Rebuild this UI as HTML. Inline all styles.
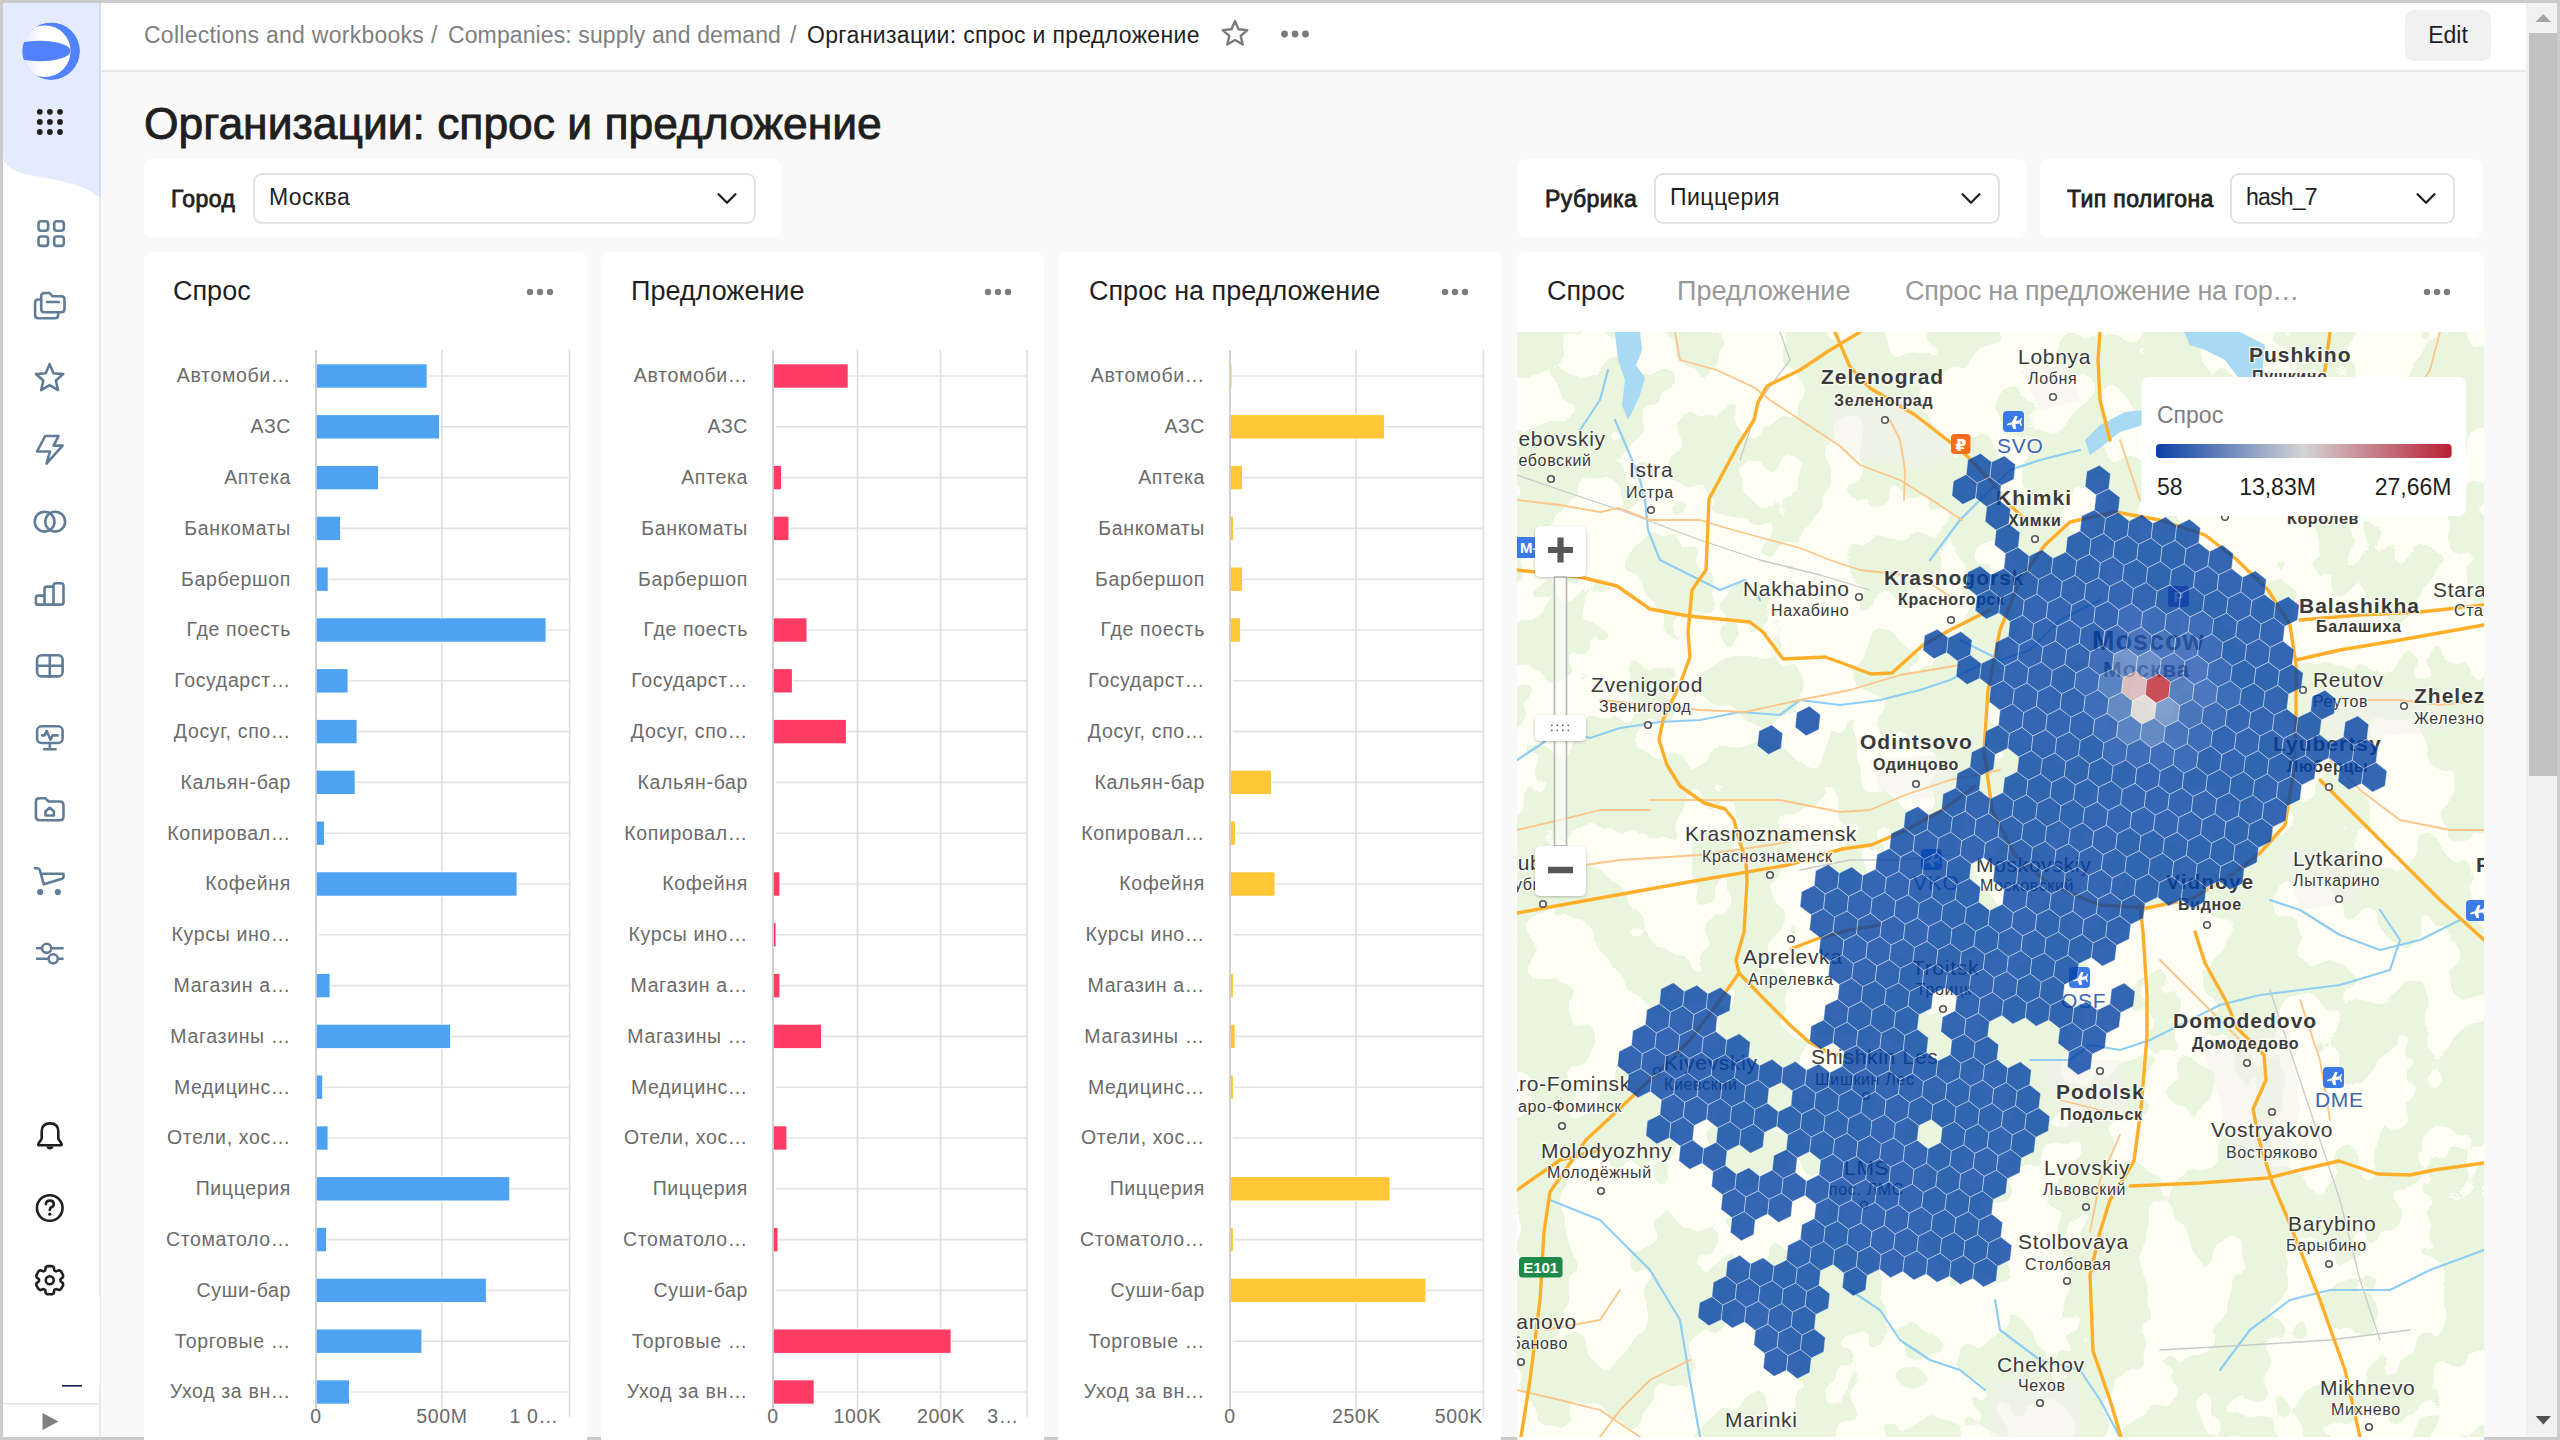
<!DOCTYPE html>
<html><head><meta charset="utf-8">
<style>
*{box-sizing:border-box;margin:0;padding:0}
html,body{width:2560px;height:1440px;overflow:hidden;background:#cbcbcb}
body{position:relative;font-family:"Liberation Sans","DejaVu Sans",sans-serif;color:#1f1f1f}
.abs{position:absolute}
#frame{position:absolute;left:3px;top:3px;width:2554px;height:1434px;background:#f9f9f9;overflow:hidden}
#aside{position:absolute;left:3px;top:3px;width:96px;height:1434px;background:#fff}
#asideb{position:absolute;left:99px;top:3px;width:2px;height:1434px;background:#ebebeb}
#header{position:absolute;left:101px;top:3px;width:2425px;height:69px;background:#fff;border-bottom:2px solid #e9e9e9}
.crumb{position:absolute;top:20.8px;font-size:23px;line-height:28px;color:#7f7f7f;white-space:nowrap}
#edit{position:absolute;left:2405px;top:10px;width:86px;height:51px;border-radius:9px;background:#f1f1f1;font-size:23px;line-height:51px;text-align:center;color:#1f1f1f}
#scroll{position:absolute;left:2526px;top:3px;width:31px;height:1434px;background:#f1f1f1}
#thumb{position:absolute;left:2529px;top:33px;width:28px;height:743px;background:#c1c1c1}
#title{position:absolute;left:144px;top:96px;font-size:44.4px;line-height:56px;color:#1f1f1f;white-space:nowrap;-webkit-text-stroke:0.9px #1f1f1f}
.card{position:absolute;background:#fff;border-radius:9px}
.flabel{position:absolute;font-size:23px;line-height:28px;color:#1f1f1f;white-space:nowrap;-webkit-text-stroke:0.8px #1f1f1f;letter-spacing:0.4px}
.sel{position:absolute;height:51px;border:2px solid #e2e2e2;border-radius:9px;background:#fff}
.sel span{position:absolute;left:14px;top:8px;letter-spacing:0.45px;font-size:23px;line-height:28px;color:#1f1f1f;white-space:nowrap}
.sel svg{position:absolute;top:15px}
.wt{position:absolute;top:274px;font-size:27px;line-height:34px;color:#1f1f1f;white-space:nowrap}
.chart{position:absolute;top:240px}
.cl{font-family:"Liberation Sans",sans-serif;font-size:19.5px;fill:#6b6b6b;letter-spacing:0.65px}
.tab{position:absolute;top:274px;font-size:27px;line-height:34px;color:#999;white-space:nowrap}
#map{position:absolute;left:1517px;top:332px;width:967px;height:1105px;overflow:hidden;background:#fcfcf4}
</style></head><body>
<div id="frame"></div>
<div id="aside">
<svg class="abs" style="left:0;top:0" width="96" height="200" viewBox="3 3 96 200">
<path d="M3,3 H99 V197 C92,192 85,188 76,185 C62,180.5 52,179 40,177 C26,174.5 14,172 8,166 C4.5,162.5 3.5,160 3,157 Z" fill="#e4ebfe"/>
</svg>
</div>
<div id="asideb"></div>
<svg class="abs" style="left:99px;top:3px" width="2" height="194"><rect width="2" height="194" fill="#d5ddef"/></svg>
<svg class="abs" style="left:0;top:0" width="100" height="1440" viewBox="0 0 100 1440"><defs><clipPath id="lc"><circle cx="51.2" cy="51.2" r="28.8"/></clipPath><linearGradient id="lg" x1="0" x2="1" y1="0" y2="0"><stop offset="0" stop-color="#dfe7ff"/><stop offset="0.45" stop-color="#ffffff"/><stop offset="1" stop-color="#ffffff"/></linearGradient></defs><g clip-path="url(#lc)"><circle cx="51.2" cy="51.2" r="28.8" fill="#5282ff"/><circle cx="44.8" cy="51.2" r="25.8" fill="url(#lg)"/><ellipse cx="40" cy="51" rx="30.6" ry="10.3" fill="#5282ff"/></g><circle cx="39.8" cy="111.8" r="2.9" fill="#1f1f1f"/><circle cx="49.9" cy="111.8" r="2.9" fill="#1f1f1f"/><circle cx="60.0" cy="111.8" r="2.9" fill="#1f1f1f"/><circle cx="39.8" cy="121.9" r="2.9" fill="#1f1f1f"/><circle cx="49.9" cy="121.9" r="2.9" fill="#1f1f1f"/><circle cx="60.0" cy="121.9" r="2.9" fill="#1f1f1f"/><circle cx="39.8" cy="132.0" r="2.9" fill="#1f1f1f"/><circle cx="49.9" cy="132.0" r="2.9" fill="#1f1f1f"/><circle cx="60.0" cy="132.0" r="2.9" fill="#1f1f1f"/><rect x="38.5" y="221.3" width="9.6" height="9.4" rx="2.6" fill="none" stroke="#617c97" stroke-width="2.6" stroke-linecap="round" stroke-linejoin="round"/><rect x="54.2" y="221.3" width="9.6" height="9.4" rx="2.6" fill="none" stroke="#617c97" stroke-width="2.6" stroke-linecap="round" stroke-linejoin="round"/><rect x="38.5" y="236.5" width="9.6" height="9.4" rx="2.6" fill="none" stroke="#617c97" stroke-width="2.6" stroke-linecap="round" stroke-linejoin="round"/><rect x="54.2" y="236.5" width="9.6" height="9.4" rx="2.6" fill="none" stroke="#617c97" stroke-width="2.6" stroke-linecap="round" stroke-linejoin="round"/><path d="M44.5,293 H49.6 L52.3,296.3 H61.2 Q64.5,296.3 64.5,299.6 V308.9 Q64.5,312.2 61.2,312.2 H44.5 Q41.2,312.2 41.2,308.9 V296.3 Q41.2,293 44.5,293 Z" fill="none" stroke="#617c97" stroke-width="2.6" stroke-linecap="round" stroke-linejoin="round"/><path d="M41.2,299.5 H38.4 Q35.1,299.5 35.1,302.8 V315 Q35.1,318.3 38.4,318.3 H55 Q58.2,318.3 58.2,315 V312.5" fill="none" stroke="#617c97" stroke-width="2.6" stroke-linecap="round" stroke-linejoin="round"/><path d="M47,302 H58.8" fill="none" stroke="#617c97" stroke-width="2.6" stroke-linecap="round" stroke-linejoin="round"/><path d="M49.6,364.2 L53.5,373.2 L63.2,374.1 L55.9,380.5 L58.0,390.1 L49.6,385.1 L41.2,390.1 L43.3,380.5 L36.0,374.1 L45.7,373.2 Z" fill="none" stroke="#617c97" stroke-width="2.6" stroke-linecap="round" stroke-linejoin="round"/><path d="M45.2,436 H58.5 L53.6,445.6 H62.6 L46.5,463.6 L50,451.5 H37 Z" fill="none" stroke="#617c97" stroke-width="2.6" stroke-linecap="round" stroke-linejoin="round"/><circle cx="44.6" cy="521.7" r="9.9" fill="none" stroke="#617c97" stroke-width="2.6" stroke-linecap="round" stroke-linejoin="round"/><circle cx="55.2" cy="521.7" r="9.9" fill="none" stroke="#617c97" stroke-width="2.6" stroke-linecap="round" stroke-linejoin="round"/><path d="M37.5,604.6 Q35.9,604.6 35.9,603 V598 Q35.9,595.6 38.3,595.6 H44.5 V589 Q44.5,586.6 46.9,586.6 H53.5 V585.8 Q53.5,583.3 55.9,583.3 H61.1 Q63.5,583.3 63.5,585.8 V602.2 Q63.5,604.6 61.1,604.6 Z M44.5,595.6 V604.6 M53.5,586.6 V604.6" fill="none" stroke="#617c97" stroke-width="2.6" stroke-linecap="round" stroke-linejoin="round"/><rect x="37.1" y="655.2" width="25.5" height="21.2" rx="4.5" fill="none" stroke="#617c97" stroke-width="2.6" stroke-linecap="round" stroke-linejoin="round"/><path d="M49.8,655.2 V676.4 M37.1,665.8 H62.6" fill="none" stroke="#617c97" stroke-width="2.6" stroke-linecap="round" stroke-linejoin="round"/><rect x="37.1" y="726.3" width="25.5" height="16.7" rx="4.5" fill="none" stroke="#617c97" stroke-width="2.6" stroke-linecap="round" stroke-linejoin="round"/><path d="M42,735.4 H44.6 L46.6,731 L50.6,739.6 L52.7,735.4 H57.6 M44,749.2 H55.6 M49.8,743 V749.2" fill="none" stroke="#617c97" stroke-width="2.6" stroke-linecap="round" stroke-linejoin="round"/><path d="M39.3,798.3 H45.5 L48.5,801.5 H59.6 Q63.5,801.5 63.5,805.4 V816.3 Q63.5,820.2 59.6,820.2 H39.8 Q35.9,820.2 35.9,816.3 V801.7 Q35.9,798.3 39.3,798.3 Z" fill="none" stroke="#617c97" stroke-width="2.6" stroke-linecap="round" stroke-linejoin="round"/><path d="M45.5,815.5 V811.3 L49.7,807.8 L53.9,811.3 V815.5 Z" fill="none" stroke="#617c97" stroke-width="2.6" stroke-linecap="round" stroke-linejoin="round"/><path d="M34.9,868.3 H37.6 Q39.3,868.3 39.8,870 L43.8,884.3 L62,878.7 Q63.5,878.2 63.5,876.7 V873.8 H41" fill="none" stroke="#617c97" stroke-width="2.6" stroke-linecap="round" stroke-linejoin="round"/><circle cx="40.2" cy="892" r="3.1" fill="#617c97"/><circle cx="57.8" cy="892" r="3.1" fill="#617c97"/><path d="M37.1,948.3 H41.4 M52,948.3 H62.6 M37.1,958.8 H47.8 M58.5,958.8 H62.6" fill="none" stroke="#617c97" stroke-width="2.6" stroke-linecap="round" stroke-linejoin="round"/><circle cx="46.7" cy="948.3" r="4.6" fill="none" stroke="#617c97" stroke-width="2.6" stroke-linecap="round" stroke-linejoin="round"/><circle cx="53.2" cy="958.8" r="4.6" fill="none" stroke="#617c97" stroke-width="2.6" stroke-linecap="round" stroke-linejoin="round"/><path d="M39.6,1145.3 H60.3 Q62.4,1145.3 61.3,1143.3 L59,1140 Q58.3,1139 58.3,1137.6 V1131.6 Q58.3,1123.4 50,1123.4 Q41.7,1123.4 41.7,1131.6 V1137.6 Q41.7,1139 41,1140 L38.6,1143.3 Q37.5,1145.3 39.6,1145.3 Z" fill="none" stroke="#1f1f1f" stroke-width="2.6" stroke-linecap="round" stroke-linejoin="round"/><path d="M46.5,1146.6 Q46.8,1149.5 50,1149.5 Q53.2,1149.5 53.5,1146.6 Z" fill="#1f1f1f"/><circle cx="49.75" cy="1208" r="12.8" fill="none" stroke="#1f1f1f" stroke-width="2.6" stroke-linecap="round" stroke-linejoin="round"/><path d="M45.9,1204.3 Q46,1200.6 49.9,1200.6 Q53.8,1200.6 53.8,1204 Q53.8,1206.2 51.4,1207.3 Q49.8,1208 49.8,1210" fill="none" stroke="#1f1f1f" stroke-width="2.6" stroke-linecap="round" stroke-linejoin="round"/><circle cx="49.8" cy="1214.2" r="1.6" fill="#1f1f1f"/><path d="M45.77,1267.19 L47.51,1266.08 L51.99,1266.08 L53.73,1267.19 L54.31,1270.41 L55.94,1271.35 L59.03,1270.25 L60.86,1271.20 L63.10,1275.08 L63.00,1277.14 L60.51,1279.26 L60.51,1281.14 L63.00,1283.26 L63.10,1285.32 L60.86,1289.20 L59.03,1290.15 L55.94,1289.05 L54.31,1289.99 L53.73,1293.21 L51.99,1294.32 L47.51,1294.32 L45.77,1293.21 L45.19,1289.99 L43.56,1289.05 L40.47,1290.15 L38.64,1289.20 L36.40,1285.32 L36.50,1283.26 L38.99,1281.14 L38.99,1279.26 L36.50,1277.14 L36.40,1275.08 L38.64,1271.20 L40.47,1270.25 L43.56,1271.35 L45.19,1270.41 Z" fill="none" stroke="#1f1f1f" stroke-width="2.6" stroke-linecap="round" stroke-linejoin="round"/><circle cx="49.75" cy="1280.2" r="4" fill="none" stroke="#1f1f1f" stroke-width="2.6" stroke-linecap="round" stroke-linejoin="round"/><rect x="3" y="1296" width="100" height="89" fill="#ffffff"/><rect x="62" y="1385" width="20" height="1.6" fill="#1b1b55"/><rect x="3" y="1403" width="97" height="1.5" fill="#e3e3e3"/><path d="M42.5,1413 L58.5,1421.5 L42.5,1430 Z" fill="#808080"/></svg>
<div id="header">
</div>
<div class="crumb" style="left:144px;letter-spacing:0.26px">Collections and workbooks</div>
<div class="crumb" style="left:431px">/</div>
<div class="crumb" style="left:448px;letter-spacing:0.11px">Companies: supply and demand</div>
<div class="crumb" style="left:790px">/</div>
<div class="crumb" style="left:807px;color:#1f1f1f;letter-spacing:0.33px">Организации: спрос и предложение</div>
<svg class="abs" style="left:1219px;top:18px" width="32" height="32" viewBox="0 0 32 32"><path d="M16,3.2 L19.6,11.3 L28.3,12.1 L21.7,17.9 L23.7,26.5 L16,22 L8.3,26.5 L10.3,17.9 L3.7,12.1 L12.4,11.3 Z" fill="none" stroke="#7a7a7a" stroke-width="2.4" stroke-linejoin="round"/></svg>
<svg class="abs" style="left:1278px;top:24px" width="34" height="20"><circle cx="6.5" cy="10" r="3.4" fill="#7a7a7a"/><circle cx="17.0" cy="10" r="3.4" fill="#7a7a7a"/><circle cx="27.5" cy="10" r="3.4" fill="#7a7a7a"/></svg>
<div id="edit">Edit</div>
<div id="scroll"></div>
<div id="thumb"></div>
<svg class="abs" style="left:2526px;top:3px" width="31" height="30"><path d="M17.3,11 L25,19 L9.6,19 Z" fill="#a3a3a3"/></svg>
<svg class="abs" style="left:2526px;top:1405px" width="31" height="30"><path d="M9.6,11 L25,11 L17.3,19.5 Z" fill="#505050"/></svg>

<div id="title">Организации: спрос и предложение</div>

<div class="card" style="left:144px;top:159px;width:638px;height:79px"></div>
<div class="flabel" style="left:171px;top:185px">Город</div>
<div class="sel" style="left:253px;top:173px;width:503px"><span>Москва</span><svg style="position:absolute;right:17.5px;top:18px" width="20" height="12" viewBox="0 0 20 12"><path d="M1.6,1.3 L10,9.7 L18.4,1.3" fill="none" stroke="#1f1f1f" stroke-width="2.3" stroke-linecap="round" stroke-linejoin="round"/></svg></div>

<div class="card" style="left:1518px;top:159px;width:508px;height:79px"></div>
<div class="flabel" style="left:1545px;top:185px">Рубрика</div>
<div class="sel" style="left:1654px;top:173px;width:346px"><span>Пиццерия</span><svg style="position:absolute;right:17.5px;top:18px" width="20" height="12" viewBox="0 0 20 12"><path d="M1.6,1.3 L10,9.7 L18.4,1.3" fill="none" stroke="#1f1f1f" stroke-width="2.3" stroke-linecap="round" stroke-linejoin="round"/></svg></div>

<div class="card" style="left:2040px;top:159px;width:442px;height:79px"></div>
<div class="flabel" style="left:2067px;top:185px">Тип полигона</div>
<div class="sel" style="left:2230px;top:173px;width:225px"><span style="letter-spacing:-0.8px">hash_7</span><svg style="position:absolute;right:17.5px;top:18px" width="20" height="12" viewBox="0 0 20 12"><path d="M1.6,1.3 L10,9.7 L18.4,1.3" fill="none" stroke="#1f1f1f" stroke-width="2.3" stroke-linecap="round" stroke-linejoin="round"/></svg></div>

<div class="card" style="left:144px;top:252px;width:443px;height:1300px"></div>
<div class="card" style="left:601px;top:252px;width:443px;height:1300px"></div>
<div class="card" style="left:1058px;top:252px;width:443px;height:1300px"></div>
<div class="card" style="left:1517px;top:252px;width:967px;height:1300px"></div>

<div class="wt" style="left:173px">Спрос</div>
<div class="wt" style="left:631px">Предложение</div>
<div class="wt" style="left:1089px">Спрос на предложение</div>
<svg class="abs" style="left:520px;top:282px" width="40" height="20"><circle cx="10" cy="10" r="3.2" fill="#7d7d7d"/><circle cx="20" cy="10" r="3.2" fill="#7d7d7d"/><circle cx="30" cy="10" r="3.2" fill="#7d7d7d"/></svg>
<svg class="abs" style="left:978px;top:282px" width="40" height="20"><circle cx="10" cy="10" r="3.2" fill="#7d7d7d"/><circle cx="20" cy="10" r="3.2" fill="#7d7d7d"/><circle cx="30" cy="10" r="3.2" fill="#7d7d7d"/></svg>
<svg class="abs" style="left:1435px;top:282px" width="40" height="20"><circle cx="10" cy="10" r="3.2" fill="#7d7d7d"/><circle cx="20" cy="10" r="3.2" fill="#7d7d7d"/><circle cx="30" cy="10" r="3.2" fill="#7d7d7d"/></svg>
<svg class="chart" style="left:144px" width="443" height="1200" viewBox="144 240 443 1200">
<line x1="319" y1="376.0" x2="569.6" y2="376.0" stroke="#e3e3e3" stroke-width="1.6"/>
<line x1="319" y1="426.8" x2="569.6" y2="426.8" stroke="#e3e3e3" stroke-width="1.6"/>
<line x1="319" y1="477.6" x2="569.6" y2="477.6" stroke="#e3e3e3" stroke-width="1.6"/>
<line x1="319" y1="528.4" x2="569.6" y2="528.4" stroke="#e3e3e3" stroke-width="1.6"/>
<line x1="319" y1="579.2" x2="569.6" y2="579.2" stroke="#e3e3e3" stroke-width="1.6"/>
<line x1="319" y1="630.0" x2="569.6" y2="630.0" stroke="#e3e3e3" stroke-width="1.6"/>
<line x1="319" y1="680.8" x2="569.6" y2="680.8" stroke="#e3e3e3" stroke-width="1.6"/>
<line x1="319" y1="731.6" x2="569.6" y2="731.6" stroke="#e3e3e3" stroke-width="1.6"/>
<line x1="319" y1="782.4" x2="569.6" y2="782.4" stroke="#e3e3e3" stroke-width="1.6"/>
<line x1="319" y1="833.2" x2="569.6" y2="833.2" stroke="#e3e3e3" stroke-width="1.6"/>
<line x1="319" y1="884.0" x2="569.6" y2="884.0" stroke="#e3e3e3" stroke-width="1.6"/>
<line x1="319" y1="934.8" x2="569.6" y2="934.8" stroke="#e3e3e3" stroke-width="1.6"/>
<line x1="319" y1="985.6" x2="569.6" y2="985.6" stroke="#e3e3e3" stroke-width="1.6"/>
<line x1="319" y1="1036.4" x2="569.6" y2="1036.4" stroke="#e3e3e3" stroke-width="1.6"/>
<line x1="319" y1="1087.2" x2="569.6" y2="1087.2" stroke="#e3e3e3" stroke-width="1.6"/>
<line x1="319" y1="1138.0" x2="569.6" y2="1138.0" stroke="#e3e3e3" stroke-width="1.6"/>
<line x1="319" y1="1188.8" x2="569.6" y2="1188.8" stroke="#e3e3e3" stroke-width="1.6"/>
<line x1="319" y1="1239.6" x2="569.6" y2="1239.6" stroke="#e3e3e3" stroke-width="1.6"/>
<line x1="319" y1="1290.4" x2="569.6" y2="1290.4" stroke="#e3e3e3" stroke-width="1.6"/>
<line x1="319" y1="1341.2" x2="569.6" y2="1341.2" stroke="#e3e3e3" stroke-width="1.6"/>
<line x1="319" y1="1392.0" x2="569.6" y2="1392.0" stroke="#e3e3e3" stroke-width="1.6"/>
<line x1="442" y1="350" x2="442" y2="1417" stroke="#dedede" stroke-width="1.6"/>
<line x1="569.6" y1="350" x2="569.6" y2="1417" stroke="#dedede" stroke-width="1.6"/>
<rect x="316" y="364.3" width="110.7" height="23.4" fill="#4da2f1" stroke="#fff" stroke-width="2" paint-order="stroke"/>
<rect x="316" y="415.1" width="123.1" height="23.4" fill="#4da2f1" stroke="#fff" stroke-width="2" paint-order="stroke"/>
<rect x="316" y="465.9" width="62.0" height="23.4" fill="#4da2f1" stroke="#fff" stroke-width="2" paint-order="stroke"/>
<rect x="316" y="516.7" width="24.1" height="23.4" fill="#4da2f1" stroke="#fff" stroke-width="2" paint-order="stroke"/>
<rect x="316" y="567.5" width="11.7" height="23.4" fill="#4da2f1" stroke="#fff" stroke-width="2" paint-order="stroke"/>
<rect x="316" y="618.3" width="229.6" height="23.4" fill="#4da2f1" stroke="#fff" stroke-width="2" paint-order="stroke"/>
<rect x="316" y="669.1" width="31.6" height="23.4" fill="#4da2f1" stroke="#fff" stroke-width="2" paint-order="stroke"/>
<rect x="316" y="719.9" width="40.6" height="23.4" fill="#4da2f1" stroke="#fff" stroke-width="2" paint-order="stroke"/>
<rect x="316" y="770.7" width="38.7" height="23.4" fill="#4da2f1" stroke="#fff" stroke-width="2" paint-order="stroke"/>
<rect x="316" y="821.5" width="8.0" height="23.4" fill="#4da2f1" stroke="#fff" stroke-width="2" paint-order="stroke"/>
<rect x="316" y="872.3" width="200.6" height="23.4" fill="#4da2f1" stroke="#fff" stroke-width="2" paint-order="stroke"/>
<rect x="316" y="973.9" width="13.6" height="23.4" fill="#4da2f1" stroke="#fff" stroke-width="2" paint-order="stroke"/>
<rect x="316" y="1024.7" width="134.1" height="23.4" fill="#4da2f1" stroke="#fff" stroke-width="2" paint-order="stroke"/>
<rect x="316" y="1075.5" width="6.2" height="23.4" fill="#4da2f1" stroke="#fff" stroke-width="2" paint-order="stroke"/>
<rect x="316" y="1126.3" width="11.6" height="23.4" fill="#4da2f1" stroke="#fff" stroke-width="2" paint-order="stroke"/>
<rect x="316" y="1177.1" width="193.3" height="23.4" fill="#4da2f1" stroke="#fff" stroke-width="2" paint-order="stroke"/>
<rect x="316" y="1227.9" width="10.0" height="23.4" fill="#4da2f1" stroke="#fff" stroke-width="2" paint-order="stroke"/>
<rect x="316" y="1278.7" width="169.9" height="23.4" fill="#4da2f1" stroke="#fff" stroke-width="2" paint-order="stroke"/>
<rect x="316" y="1329.5" width="105.4" height="23.4" fill="#4da2f1" stroke="#fff" stroke-width="2" paint-order="stroke"/>
<rect x="316" y="1380.3" width="33.0" height="23.4" fill="#4da2f1" stroke="#fff" stroke-width="2" paint-order="stroke"/>
<line x1="316" y1="350" x2="316" y2="1410" stroke="#cccccc" stroke-width="1.8"/>
<text x="291" y="382.3" text-anchor="end" class="cl">Автомоби…</text>
<text x="291" y="433.1" text-anchor="end" class="cl">АЗС</text>
<text x="291" y="483.9" text-anchor="end" class="cl">Аптека</text>
<text x="291" y="534.7" text-anchor="end" class="cl">Банкоматы</text>
<text x="291" y="585.5" text-anchor="end" class="cl">Барбершоп</text>
<text x="291" y="636.3" text-anchor="end" class="cl">Где поесть</text>
<text x="291" y="687.1" text-anchor="end" class="cl">Государст…</text>
<text x="291" y="737.9" text-anchor="end" class="cl">Досуг, спо…</text>
<text x="291" y="788.7" text-anchor="end" class="cl">Кальян-бар</text>
<text x="291" y="839.5" text-anchor="end" class="cl">Копировал…</text>
<text x="291" y="890.3" text-anchor="end" class="cl">Кофейня</text>
<text x="291" y="941.1" text-anchor="end" class="cl">Курсы ино…</text>
<text x="291" y="991.9" text-anchor="end" class="cl">Магазин а…</text>
<text x="291" y="1042.7" text-anchor="end" class="cl">Магазины …</text>
<text x="291" y="1093.5" text-anchor="end" class="cl">Медицинс…</text>
<text x="291" y="1144.3" text-anchor="end" class="cl">Отели, хос…</text>
<text x="291" y="1195.1" text-anchor="end" class="cl">Пиццерия</text>
<text x="291" y="1245.9" text-anchor="end" class="cl">Стоматоло…</text>
<text x="291" y="1296.7" text-anchor="end" class="cl">Суши-бар</text>
<text x="291" y="1347.5" text-anchor="end" class="cl">Торговые …</text>
<text x="291" y="1398.3" text-anchor="end" class="cl">Уход за вн…</text>
<text x="316" y="1422.5" text-anchor="middle" class="cl">0</text>
<text x="442" y="1422.5" text-anchor="middle" class="cl">500M</text>
<text x="534" y="1422.5" text-anchor="middle" class="cl">1 0…</text>
</svg><svg class="chart" style="left:601px" width="443" height="1200" viewBox="601 240 443 1200">
<line x1="776" y1="376.0" x2="1027" y2="376.0" stroke="#e3e3e3" stroke-width="1.6"/>
<line x1="776" y1="426.8" x2="1027" y2="426.8" stroke="#e3e3e3" stroke-width="1.6"/>
<line x1="776" y1="477.6" x2="1027" y2="477.6" stroke="#e3e3e3" stroke-width="1.6"/>
<line x1="776" y1="528.4" x2="1027" y2="528.4" stroke="#e3e3e3" stroke-width="1.6"/>
<line x1="776" y1="579.2" x2="1027" y2="579.2" stroke="#e3e3e3" stroke-width="1.6"/>
<line x1="776" y1="630.0" x2="1027" y2="630.0" stroke="#e3e3e3" stroke-width="1.6"/>
<line x1="776" y1="680.8" x2="1027" y2="680.8" stroke="#e3e3e3" stroke-width="1.6"/>
<line x1="776" y1="731.6" x2="1027" y2="731.6" stroke="#e3e3e3" stroke-width="1.6"/>
<line x1="776" y1="782.4" x2="1027" y2="782.4" stroke="#e3e3e3" stroke-width="1.6"/>
<line x1="776" y1="833.2" x2="1027" y2="833.2" stroke="#e3e3e3" stroke-width="1.6"/>
<line x1="776" y1="884.0" x2="1027" y2="884.0" stroke="#e3e3e3" stroke-width="1.6"/>
<line x1="776" y1="934.8" x2="1027" y2="934.8" stroke="#e3e3e3" stroke-width="1.6"/>
<line x1="776" y1="985.6" x2="1027" y2="985.6" stroke="#e3e3e3" stroke-width="1.6"/>
<line x1="776" y1="1036.4" x2="1027" y2="1036.4" stroke="#e3e3e3" stroke-width="1.6"/>
<line x1="776" y1="1087.2" x2="1027" y2="1087.2" stroke="#e3e3e3" stroke-width="1.6"/>
<line x1="776" y1="1138.0" x2="1027" y2="1138.0" stroke="#e3e3e3" stroke-width="1.6"/>
<line x1="776" y1="1188.8" x2="1027" y2="1188.8" stroke="#e3e3e3" stroke-width="1.6"/>
<line x1="776" y1="1239.6" x2="1027" y2="1239.6" stroke="#e3e3e3" stroke-width="1.6"/>
<line x1="776" y1="1290.4" x2="1027" y2="1290.4" stroke="#e3e3e3" stroke-width="1.6"/>
<line x1="776" y1="1341.2" x2="1027" y2="1341.2" stroke="#e3e3e3" stroke-width="1.6"/>
<line x1="776" y1="1392.0" x2="1027" y2="1392.0" stroke="#e3e3e3" stroke-width="1.6"/>
<line x1="857.5" y1="350" x2="857.5" y2="1417" stroke="#dedede" stroke-width="1.6"/>
<line x1="940.4" y1="350" x2="940.4" y2="1417" stroke="#dedede" stroke-width="1.6"/>
<line x1="1027" y1="350" x2="1027" y2="1417" stroke="#dedede" stroke-width="1.6"/>
<rect x="773" y="364.3" width="74.7" height="23.4" fill="#ff3d64" stroke="#fff" stroke-width="2" paint-order="stroke"/>
<rect x="773" y="465.9" width="8.0" height="23.4" fill="#ff3d64" stroke="#fff" stroke-width="2" paint-order="stroke"/>
<rect x="773" y="516.7" width="15.5" height="23.4" fill="#ff3d64" stroke="#fff" stroke-width="2" paint-order="stroke"/>
<rect x="773" y="618.3" width="33.5" height="23.4" fill="#ff3d64" stroke="#fff" stroke-width="2" paint-order="stroke"/>
<rect x="773" y="669.1" width="18.9" height="23.4" fill="#ff3d64" stroke="#fff" stroke-width="2" paint-order="stroke"/>
<rect x="773" y="719.9" width="72.9" height="23.4" fill="#ff3d64" stroke="#fff" stroke-width="2" paint-order="stroke"/>
<rect x="773" y="872.3" width="6.4" height="23.4" fill="#ff3d64" stroke="#fff" stroke-width="2" paint-order="stroke"/>
<rect x="773" y="923.1" width="2.6" height="23.4" fill="#ff3d64" stroke="#fff" stroke-width="2" paint-order="stroke"/>
<rect x="773" y="973.9" width="6.4" height="23.4" fill="#ff3d64" stroke="#fff" stroke-width="2" paint-order="stroke"/>
<rect x="773" y="1024.7" width="48.0" height="23.4" fill="#ff3d64" stroke="#fff" stroke-width="2" paint-order="stroke"/>
<rect x="773" y="1126.3" width="13.4" height="23.4" fill="#ff3d64" stroke="#fff" stroke-width="2" paint-order="stroke"/>
<rect x="773" y="1227.9" width="4.5" height="23.4" fill="#ff3d64" stroke="#fff" stroke-width="2" paint-order="stroke"/>
<rect x="773" y="1329.5" width="177.6" height="23.4" fill="#ff3d64" stroke="#fff" stroke-width="2" paint-order="stroke"/>
<rect x="773" y="1380.3" width="40.7" height="23.4" fill="#ff3d64" stroke="#fff" stroke-width="2" paint-order="stroke"/>
<line x1="773" y1="350" x2="773" y2="1410" stroke="#cccccc" stroke-width="1.8"/>
<text x="748" y="382.3" text-anchor="end" class="cl">Автомоби…</text>
<text x="748" y="433.1" text-anchor="end" class="cl">АЗС</text>
<text x="748" y="483.9" text-anchor="end" class="cl">Аптека</text>
<text x="748" y="534.7" text-anchor="end" class="cl">Банкоматы</text>
<text x="748" y="585.5" text-anchor="end" class="cl">Барбершоп</text>
<text x="748" y="636.3" text-anchor="end" class="cl">Где поесть</text>
<text x="748" y="687.1" text-anchor="end" class="cl">Государст…</text>
<text x="748" y="737.9" text-anchor="end" class="cl">Досуг, спо…</text>
<text x="748" y="788.7" text-anchor="end" class="cl">Кальян-бар</text>
<text x="748" y="839.5" text-anchor="end" class="cl">Копировал…</text>
<text x="748" y="890.3" text-anchor="end" class="cl">Кофейня</text>
<text x="748" y="941.1" text-anchor="end" class="cl">Курсы ино…</text>
<text x="748" y="991.9" text-anchor="end" class="cl">Магазин а…</text>
<text x="748" y="1042.7" text-anchor="end" class="cl">Магазины …</text>
<text x="748" y="1093.5" text-anchor="end" class="cl">Медицинс…</text>
<text x="748" y="1144.3" text-anchor="end" class="cl">Отели, хос…</text>
<text x="748" y="1195.1" text-anchor="end" class="cl">Пиццерия</text>
<text x="748" y="1245.9" text-anchor="end" class="cl">Стоматоло…</text>
<text x="748" y="1296.7" text-anchor="end" class="cl">Суши-бар</text>
<text x="748" y="1347.5" text-anchor="end" class="cl">Торговые …</text>
<text x="748" y="1398.3" text-anchor="end" class="cl">Уход за вн…</text>
<text x="773" y="1422.5" text-anchor="middle" class="cl">0</text>
<text x="857.5" y="1422.5" text-anchor="middle" class="cl">100K</text>
<text x="941" y="1422.5" text-anchor="middle" class="cl">200K</text>
<text x="1003" y="1422.5" text-anchor="middle" class="cl">3…</text>
</svg><svg class="chart" style="left:1058px" width="443" height="1200" viewBox="1058 240 443 1200">
<line x1="1233" y1="376.0" x2="1483.5" y2="376.0" stroke="#e3e3e3" stroke-width="1.6"/>
<line x1="1233" y1="426.8" x2="1483.5" y2="426.8" stroke="#e3e3e3" stroke-width="1.6"/>
<line x1="1233" y1="477.6" x2="1483.5" y2="477.6" stroke="#e3e3e3" stroke-width="1.6"/>
<line x1="1233" y1="528.4" x2="1483.5" y2="528.4" stroke="#e3e3e3" stroke-width="1.6"/>
<line x1="1233" y1="579.2" x2="1483.5" y2="579.2" stroke="#e3e3e3" stroke-width="1.6"/>
<line x1="1233" y1="630.0" x2="1483.5" y2="630.0" stroke="#e3e3e3" stroke-width="1.6"/>
<line x1="1233" y1="680.8" x2="1483.5" y2="680.8" stroke="#e3e3e3" stroke-width="1.6"/>
<line x1="1233" y1="731.6" x2="1483.5" y2="731.6" stroke="#e3e3e3" stroke-width="1.6"/>
<line x1="1233" y1="782.4" x2="1483.5" y2="782.4" stroke="#e3e3e3" stroke-width="1.6"/>
<line x1="1233" y1="833.2" x2="1483.5" y2="833.2" stroke="#e3e3e3" stroke-width="1.6"/>
<line x1="1233" y1="884.0" x2="1483.5" y2="884.0" stroke="#e3e3e3" stroke-width="1.6"/>
<line x1="1233" y1="934.8" x2="1483.5" y2="934.8" stroke="#e3e3e3" stroke-width="1.6"/>
<line x1="1233" y1="985.6" x2="1483.5" y2="985.6" stroke="#e3e3e3" stroke-width="1.6"/>
<line x1="1233" y1="1036.4" x2="1483.5" y2="1036.4" stroke="#e3e3e3" stroke-width="1.6"/>
<line x1="1233" y1="1087.2" x2="1483.5" y2="1087.2" stroke="#e3e3e3" stroke-width="1.6"/>
<line x1="1233" y1="1138.0" x2="1483.5" y2="1138.0" stroke="#e3e3e3" stroke-width="1.6"/>
<line x1="1233" y1="1188.8" x2="1483.5" y2="1188.8" stroke="#e3e3e3" stroke-width="1.6"/>
<line x1="1233" y1="1239.6" x2="1483.5" y2="1239.6" stroke="#e3e3e3" stroke-width="1.6"/>
<line x1="1233" y1="1290.4" x2="1483.5" y2="1290.4" stroke="#e3e3e3" stroke-width="1.6"/>
<line x1="1233" y1="1341.2" x2="1483.5" y2="1341.2" stroke="#e3e3e3" stroke-width="1.6"/>
<line x1="1233" y1="1392.0" x2="1483.5" y2="1392.0" stroke="#e3e3e3" stroke-width="1.6"/>
<line x1="1356" y1="350" x2="1356" y2="1417" stroke="#dedede" stroke-width="1.6"/>
<line x1="1483.5" y1="350" x2="1483.5" y2="1417" stroke="#dedede" stroke-width="1.6"/>
<rect x="1230" y="364.3" width="1.5" height="23.4" fill="#ffc636" stroke="#fff" stroke-width="2" paint-order="stroke"/>
<rect x="1230" y="415.1" width="154.1" height="23.4" fill="#ffc636" stroke="#fff" stroke-width="2" paint-order="stroke"/>
<rect x="1230" y="465.9" width="12.0" height="23.4" fill="#ffc636" stroke="#fff" stroke-width="2" paint-order="stroke"/>
<rect x="1230" y="516.7" width="3.0" height="23.4" fill="#ffc636" stroke="#fff" stroke-width="2" paint-order="stroke"/>
<rect x="1230" y="567.5" width="12.0" height="23.4" fill="#ffc636" stroke="#fff" stroke-width="2" paint-order="stroke"/>
<rect x="1230" y="618.3" width="10.1" height="23.4" fill="#ffc636" stroke="#fff" stroke-width="2" paint-order="stroke"/>
<rect x="1230" y="669.1" width="0.8" height="23.4" fill="#ffc636" stroke="#fff" stroke-width="2" paint-order="stroke"/>
<rect x="1230" y="719.9" width="0.8" height="23.4" fill="#ffc636" stroke="#fff" stroke-width="2" paint-order="stroke"/>
<rect x="1230" y="770.7" width="40.9" height="23.4" fill="#ffc636" stroke="#fff" stroke-width="2" paint-order="stroke"/>
<rect x="1230" y="821.5" width="4.9" height="23.4" fill="#ffc636" stroke="#fff" stroke-width="2" paint-order="stroke"/>
<rect x="1230" y="872.3" width="44.5" height="23.4" fill="#ffc636" stroke="#fff" stroke-width="2" paint-order="stroke"/>
<rect x="1230" y="973.9" width="2.9" height="23.4" fill="#ffc636" stroke="#fff" stroke-width="2" paint-order="stroke"/>
<rect x="1230" y="1024.7" width="4.8" height="23.4" fill="#ffc636" stroke="#fff" stroke-width="2" paint-order="stroke"/>
<rect x="1230" y="1075.5" width="2.9" height="23.4" fill="#ffc636" stroke="#fff" stroke-width="2" paint-order="stroke"/>
<rect x="1230" y="1177.1" width="159.6" height="23.4" fill="#ffc636" stroke="#fff" stroke-width="2" paint-order="stroke"/>
<rect x="1230" y="1227.9" width="2.9" height="23.4" fill="#ffc636" stroke="#fff" stroke-width="2" paint-order="stroke"/>
<rect x="1230" y="1278.7" width="195.4" height="23.4" fill="#ffc636" stroke="#fff" stroke-width="2" paint-order="stroke"/>
<line x1="1230" y1="350" x2="1230" y2="1410" stroke="#cccccc" stroke-width="1.8"/>
<text x="1205" y="382.3" text-anchor="end" class="cl">Автомоби…</text>
<text x="1205" y="433.1" text-anchor="end" class="cl">АЗС</text>
<text x="1205" y="483.9" text-anchor="end" class="cl">Аптека</text>
<text x="1205" y="534.7" text-anchor="end" class="cl">Банкоматы</text>
<text x="1205" y="585.5" text-anchor="end" class="cl">Барбершоп</text>
<text x="1205" y="636.3" text-anchor="end" class="cl">Где поесть</text>
<text x="1205" y="687.1" text-anchor="end" class="cl">Государст…</text>
<text x="1205" y="737.9" text-anchor="end" class="cl">Досуг, спо…</text>
<text x="1205" y="788.7" text-anchor="end" class="cl">Кальян-бар</text>
<text x="1205" y="839.5" text-anchor="end" class="cl">Копировал…</text>
<text x="1205" y="890.3" text-anchor="end" class="cl">Кофейня</text>
<text x="1205" y="941.1" text-anchor="end" class="cl">Курсы ино…</text>
<text x="1205" y="991.9" text-anchor="end" class="cl">Магазин а…</text>
<text x="1205" y="1042.7" text-anchor="end" class="cl">Магазины …</text>
<text x="1205" y="1093.5" text-anchor="end" class="cl">Медицинс…</text>
<text x="1205" y="1144.3" text-anchor="end" class="cl">Отели, хос…</text>
<text x="1205" y="1195.1" text-anchor="end" class="cl">Пиццерия</text>
<text x="1205" y="1245.9" text-anchor="end" class="cl">Стоматоло…</text>
<text x="1205" y="1296.7" text-anchor="end" class="cl">Суши-бар</text>
<text x="1205" y="1347.5" text-anchor="end" class="cl">Торговые …</text>
<text x="1205" y="1398.3" text-anchor="end" class="cl">Уход за вн…</text>
<text x="1230" y="1422.5" text-anchor="middle" class="cl">0</text>
<text x="1356" y="1422.5" text-anchor="middle" class="cl">250K</text>
<text x="1483" y="1422.5" text-anchor="end" class="cl">500K</text>
</svg>
<div class="tab" style="left:1547px;color:#1f1f1f">Спрос</div>
<div class="tab" style="left:1677px">Предложение</div>
<div class="tab" style="left:1905px;letter-spacing:-0.3px">Спрос на предложение на гор…</div>
<svg class="abs" style="left:2417px;top:282px" width="40" height="20"><circle cx="10" cy="10" r="3.2" fill="#7d7d7d"/><circle cx="20" cy="10" r="3.2" fill="#7d7d7d"/><circle cx="30" cy="10" r="3.2" fill="#7d7d7d"/></svg>
<div id="map"><svg width="967" height="1105" viewBox="1517 332 967 1105" style="position:absolute;left:0;top:0">
<defs><filter id="sh" x="-20%" y="-20%" width="140%" height="150%"><feDropShadow dx="0" dy="1" stdDeviation="1.5" flood-color="#000" flood-opacity="0.25"/></filter></defs>
<rect x="1517" y="332" width="967" height="1105" fill="rgb(254, 254, 244)"/>
<filter id="forest" x="1517" y="332" width="967" height="1105" filterUnits="userSpaceOnUse">
<feTurbulence type="fractalNoise" baseFrequency="0.014 0.012" numOctaves="3" seed="11" result="n"/>
<feColorMatrix in="n" type="matrix" values="0 0 0 0 0  0 0 0 0 0  0 0 0 0 0  1.6 0 0 0 -0.3" result="a"/>
<feComponentTransfer in="a" result="m"><feFuncA type="discrete" tableValues="0 0 0 0 0 1 1 1 1 1"/></feComponentTransfer>
<feFlood flood-color="#e9f6dd" result="g"/>
<feComposite in="g" in2="m" operator="in"/>
</filter>
<rect x="1517" y="332" width="967" height="1105" fill="#fff" filter="url(#forest)"/>
<path d="M1830,400 L1900,395 L1930,430 L1960,450 L1920,470 L1860,460 L1830,440 Z" fill="#f4f2ec" opacity="0.6"/>
<path d="M2020,370 L2070,365 L2080,400 L2040,410 Z" fill="#f4f2ec" opacity="0.6"/>
<path d="M1870,760 L1940,755 L1960,790 L1920,800 L1880,790 Z" fill="#f4f2ec" opacity="0.6"/>
<path d="M2200,1040 L2290,1030 L2300,1110 L2280,1200 L2240,1190 L2220,1100 Z" fill="#f4f2ec" opacity="0.6"/>
<path d="M2040,1060 L2120,1060 L2130,1120 L2060,1130 Z" fill="#f4f2ec" opacity="0.6"/>
<path d="M2280,850 L2350,850 L2360,900 L2300,910 Z" fill="#f4f2ec" opacity="0.6"/>
<path d="M2300,690 L2440,690 L2450,730 L2330,740 Z" fill="#f4f2ec" opacity="0.6"/>
<path d="M1990,1380 L2080,1380 L2080,1437 L1990,1437 Z" fill="#f4f2ec" opacity="0.6"/>
<path d="M1615,332 L1640,332 L1642,350 L1636,365 L1645,378 L1640,395 L1633,410 L1628,420 L1622,405 L1625,380 L1618,360 Z" fill="#a9daf4" />
<path d="M2184,332 L2240,332 L2265,345 L2262,375 L2240,380 L2225,360 L2205,350 L2190,345 Z" fill="#a9daf4" />
<path d="M2085,440 L2100,425 L2125,412 L2143,410 L2143,425 L2120,432 L2100,448 L2090,455 Z" fill="#a9daf4" />
<path d="M1615,420 L1630,455 L1640,480 L1645,500 L1648,530 L1660,560 L1690,575 L1720,590 L1745,580 L1760,600" fill="none" stroke="#8fcdf2" stroke-width="2.2" stroke-linejoin="round" stroke-linecap="round" />
<path d="M1517,760 L1540,745 L1560,730 L1590,738 L1620,728 L1660,722 L1700,720 L1740,712 L1780,715 L1800,700 L1840,705 L1880,700 L1920,690 L1950,680 L1980,665" fill="none" stroke="#8fcdf2" stroke-width="2.2" stroke-linejoin="round" stroke-linecap="round" />
<path d="M1960,640 L2000,660 L2030,650 L2060,620 L2100,600" fill="none" stroke="#8fcdf2" stroke-width="2.2" stroke-linejoin="round" stroke-linecap="round" />
<path d="M1930,560 L1960,520 L1980,500 L2010,470 L2040,460 L2080,450" fill="none" stroke="#8fcdf2" stroke-width="2.2" stroke-linejoin="round" stroke-linecap="round" />
<path d="M2030,1060 L2070,1060 L2090,1045 L2120,1050 L2150,1040 L2190,1020 L2220,1005 L2260,995 L2300,990 L2340,985 L2390,970 L2400,940 L2380,910" fill="none" stroke="#8fcdf2" stroke-width="2.2" stroke-linejoin="round" stroke-linecap="round" />
<path d="M1995,1300 L2000,1330 L2040,1360 L2080,1370 L2100,1400 L2120,1437" fill="none" stroke="#8fcdf2" stroke-width="2.2" stroke-linejoin="round" stroke-linecap="round" />
<path d="M1850,1290 L1880,1310 L1900,1340 L1930,1360 L1960,1370 L1985,1390" fill="none" stroke="#8fcdf2" stroke-width="2.2" stroke-linejoin="round" stroke-linecap="round" />
<path d="M1550,1200 L1600,1220 L1650,1270 L1680,1320 L1690,1380 L1700,1437" fill="none" stroke="#8fcdf2" stroke-width="2.2" stroke-linejoin="round" stroke-linecap="round" />
<path d="M2220,1370 L2250,1330 L2290,1300 L2330,1290 L2390,1290 L2430,1270 L2484,1250" fill="none" stroke="#8fcdf2" stroke-width="2.2" stroke-linejoin="round" stroke-linecap="round" />
<path d="M2270,900 L2300,910 L2340,935 L2380,950 L2420,940 L2460,920" fill="none" stroke="#8fcdf2" stroke-width="2.2" stroke-linejoin="round" stroke-linecap="round" />
<path d="M1580,430 L1600,400 L1608,370" fill="none" stroke="#8fcdf2" stroke-width="2.2" stroke-linejoin="round" stroke-linecap="round" />
<path d="M1517,475 L1560,490 L1620,510 L1700,540 L1760,560 L1820,575 L1870,590" fill="none" stroke="#c9c9c9" stroke-width="1.3" stroke-linejoin="round" stroke-linecap="round" />
<path d="M1780,332 L1790,360 L1760,400 L1740,460" fill="none" stroke="#c9c9c9" stroke-width="1.3" stroke-linejoin="round" stroke-linecap="round" />
<path d="M1800,870 L1850,860 L1900,860 L1950,855" fill="none" stroke="#c9c9c9" stroke-width="1.3" stroke-linejoin="round" stroke-linecap="round" />
<path d="M2270,990 L2290,1050 L2310,1110 L2340,1200 L2360,1280 L2380,1340" fill="none" stroke="#c9c9c9" stroke-width="1.3" stroke-linejoin="round" stroke-linecap="round" />
<path d="M2410,1330 L2330,1340 L2250,1345 L2160,1350" fill="none" stroke="#c9c9c9" stroke-width="1.3" stroke-linejoin="round" stroke-linecap="round" />
<path d="M1675,332 L1680,360 L1717,370 L1755,388 L1770,400 L1808,425 L1840,446 L1860,465 L1900,480 L1935,502 L1962,520" fill="none" stroke="#fcc58a" stroke-width="1.8" stroke-linejoin="round" stroke-linecap="round" />
<path d="M1517,500 L1560,505 L1600,512 L1619,508 L1650,520 L1700,520 L1733,530 L1770,540 L1800,548 L1830,560 L1860,570 L1905,575 L1930,583 L1955,600" fill="none" stroke="#fcc58a" stroke-width="1.8" stroke-linejoin="round" stroke-linecap="round" />
<path d="M1600,700 L1650,705 L1700,710 L1745,712 L1800,700 L1850,690 L1900,675 L1960,665" fill="none" stroke="#fcc58a" stroke-width="1.8" stroke-linejoin="round" stroke-linecap="round" />
<path d="M1650,800 L1700,800 L1780,800 L1840,812 L1870,810 L1905,795 L1950,780 L2000,770" fill="none" stroke="#fcc58a" stroke-width="1.8" stroke-linejoin="round" stroke-linecap="round" />
<path d="M1517,830 L1560,820 L1600,810 L1650,810" fill="none" stroke="#fcc58a" stroke-width="1.8" stroke-linejoin="round" stroke-linecap="round" />
<path d="M1550,870 L1620,860 L1700,855 L1770,845 L1840,832" fill="none" stroke="#fcc58a" stroke-width="1.8" stroke-linejoin="round" stroke-linecap="round" />
<path d="M1890,420 L1900,440 L1905,470 L1904,500" fill="none" stroke="#fcc58a" stroke-width="1.8" stroke-linejoin="round" stroke-linecap="round" />
<path d="M2120,440 L2130,470 L2140,500" fill="none" stroke="#fcc58a" stroke-width="1.8" stroke-linejoin="round" stroke-linecap="round" />
<path d="M2350,700 L2400,700 L2440,705 L2484,700" fill="none" stroke="#fcc58a" stroke-width="1.8" stroke-linejoin="round" stroke-linecap="round" />
<path d="M2330,760 L2360,790 L2400,820 L2450,830 L2484,830" fill="none" stroke="#fcc58a" stroke-width="1.8" stroke-linejoin="round" stroke-linecap="round" />
<path d="M2060,1100 L2100,1110 L2140,1120" fill="none" stroke="#fcc58a" stroke-width="1.8" stroke-linejoin="round" stroke-linecap="round" />
<path d="M2120,1135 L2100,1180 L2090,1232" fill="none" stroke="#fcc58a" stroke-width="1.8" stroke-linejoin="round" stroke-linecap="round" />
<path d="M2160,960 L2200,1000 L2240,1040" fill="none" stroke="#fcc58a" stroke-width="1.8" stroke-linejoin="round" stroke-linecap="round" />
<path d="M2300,1000 L2320,1060 L2330,1120" fill="none" stroke="#fcc58a" stroke-width="1.8" stroke-linejoin="round" stroke-linecap="round" />
<path d="M2440,332 L2430,370 L2410,400" fill="none" stroke="#fcc58a" stroke-width="1.8" stroke-linejoin="round" stroke-linecap="round" />
<path d="M1545,1330 L1600,1320 L1620,1290" fill="none" stroke="#fcc58a" stroke-width="1.8" stroke-linejoin="round" stroke-linecap="round" />
<path d="M1517,1390 L1560,1400 L1600,1410 L1640,1437" fill="none" stroke="#fcc58a" stroke-width="1.8" stroke-linejoin="round" stroke-linecap="round" />
<path d="M1600,1437 L1620,1410 L1650,1380 L1690,1360" fill="none" stroke="#fcc58a" stroke-width="1.8" stroke-linejoin="round" stroke-linecap="round" />
<path d="M1835,332 L1850,367 L1870,388 L1915,415 L1950,442 L1968,457 L1990,480 L2010,505 L2030,525" fill="none" stroke="#ffae2a" stroke-width="3.4" stroke-linejoin="round" stroke-linecap="round" />
<path d="M1860,332 L1830,350 L1800,370 L1767,386 L1758,402 L1754,420 L1738,445 L1709,499 L1706,570 L1692,590 L1688,632 L1690,657 L1680,684 L1663,720 L1659,740 L1667,765 L1680,786 L1704,803 L1725,809 L1734,820 L1738,836 L1746,861 L1747,882 L1744,932 L1736,960 L1739,973" fill="none" stroke="#ffae2a" stroke-width="3.4" stroke-linejoin="round" stroke-linecap="round" />
<path d="M1517,570 L1580,577 L1617,586 L1650,609 L1688,616 L1750,622 L1763,632 L1783,659 L1825,657 L1842,663 L1871,674 L1892,673 L1923,645 L1950,630 L1990,610" fill="none" stroke="#ffae2a" stroke-width="3.4" stroke-linejoin="round" stroke-linecap="round" />
<path d="M1517,913 L1600,898 L1700,880 L1788,865 L1842,849 L1871,845 L1902,832 L1944,809 L1975,786" fill="none" stroke="#ffae2a" stroke-width="3.4" stroke-linejoin="round" stroke-linecap="round" />
<path d="M1739,973 L1720,1000 L1690,1040 L1660,1070 L1632,1097 L1586,1140 L1550,1192 L1544,1232 L1540,1300 L1530,1380 L1521,1437" fill="none" stroke="#ffae2a" stroke-width="3.4" stroke-linejoin="round" stroke-linecap="round" />
<path d="M1739,973 L1760,995 L1790,1025 L1809,1042 L1830,1053 L1860,1060" fill="none" stroke="#ffae2a" stroke-width="3.4" stroke-linejoin="round" stroke-linecap="round" />
<path d="M1791,949 L1819,938 L1850,930 L1880,925" fill="none" stroke="#ffae2a" stroke-width="3.4" stroke-linejoin="round" stroke-linecap="round" />
<path d="M2070,522 L2115,512 L2160,520 L2205,535 L2236,559 L2268,590 L2290,625 L2296,665 L2296,720 L2294,770 L2285,825 L2260,853 L2230,876 L2191,899 L2147,908 L2100,905 L2050,885 L2015,855 L1992,810 L1984,750 L1988,690 L2000,630 L2020,580 L2045,545 L2070,522" fill="none" stroke="#ffae2a" stroke-width="3.4" stroke-linejoin="round" stroke-linecap="round" />
<path d="M2296,660 L2340,650 L2400,640 L2484,625" fill="none" stroke="#ffae2a" stroke-width="3.4" stroke-linejoin="round" stroke-linecap="round" />
<path d="M2300,620 L2360,615 L2420,612 L2484,605" fill="none" stroke="#ffae2a" stroke-width="3.4" stroke-linejoin="round" stroke-linecap="round" />
<path d="M2320,780 L2360,820 L2400,860 L2440,900 L2484,940" fill="none" stroke="#ffae2a" stroke-width="3.4" stroke-linejoin="round" stroke-linecap="round" />
<path d="M2140,905 L2143,932 L2147,994 L2147,1036 L2141,1109 L2134,1161 L2110,1200 L2100,1232 L2090,1275 L2093,1351 L2110,1400 L2121,1437" fill="none" stroke="#ffae2a" stroke-width="3.4" stroke-linejoin="round" stroke-linecap="round" />
<path d="M2195,932 L2205,963 L2226,1001 L2237,1028 L2264,1055 L2266,1080 L2253,1109 L2259,1140 L2272,1182 L2287,1217 L2320,1300 L2345,1370 L2360,1437" fill="none" stroke="#ffae2a" stroke-width="3.4" stroke-linejoin="round" stroke-linecap="round" />
<path d="M2130,1186 L2200,1183 L2268,1178 L2300,1170 L2339,1161 L2378,1174 L2410,1175 L2434,1170 L2484,1163" fill="none" stroke="#ffae2a" stroke-width="3.4" stroke-linejoin="round" stroke-linecap="round" />
<path d="M2100,332 L2098,360 L2100,400 L2110,440" fill="none" stroke="#ffae2a" stroke-width="3.4" stroke-linejoin="round" stroke-linecap="round" />
<path d="M2330,332 L2325,370 L2320,390" fill="none" stroke="#ffae2a" stroke-width="3.4" stroke-linejoin="round" stroke-linecap="round" />
<path d="M2300,520 L2330,500 L2360,490" fill="none" stroke="#ffae2a" stroke-width="3.4" stroke-linejoin="round" stroke-linecap="round" />
<path d="M1517,1190 L1560,1160 L1600,1150" fill="none" stroke="#ffae2a" stroke-width="3.4" stroke-linejoin="round" stroke-linecap="round" />
<rect x="2003" y="411" width="21" height="21" rx="4" fill="#3b7ae8"/><path d="M2007,424 L2012,422 L2015,416 L2017.5,416 L2016,421 L2020,420 L2021,418 L2022,418 L2021,422 L2022,426 L2021,426 L2019.5,423.5 L2015.5,424 L2016,429 L2013.5,429 L2011.5,424.5 L2007.5,425.5 Z" fill="#fff"/>
<rect x="1921" y="849" width="21" height="21" rx="4" fill="#3b7ae8"/><path d="M1925,862 L1930,860 L1933,854 L1935.5,854 L1934,859 L1938,858 L1939,856 L1940,856 L1939,860 L1940,864 L1939,864 L1937.5,861.5 L1933.5,862 L1934,867 L1931.5,867 L1929.5,862.5 L1925.5,863.5 Z" fill="#fff"/>
<rect x="2069" y="967" width="21" height="21" rx="4" fill="#3b7ae8"/><path d="M2073,980 L2078,978 L2081,972 L2083.5,972 L2082,977 L2086,976 L2087,974 L2088,974 L2087,978 L2088,982 L2087,982 L2085.5,979.5 L2081.5,980 L2082,985 L2079.5,985 L2077.5,980.5 L2073.5,981.5 Z" fill="#fff"/>
<rect x="2323" y="1067" width="21" height="21" rx="4" fill="#3b7ae8"/><path d="M2327,1080 L2332,1078 L2335,1072 L2337.5,1072 L2336,1077 L2340,1076 L2341,1074 L2342,1074 L2341,1078 L2342,1082 L2341,1082 L2339.5,1079.5 L2335.5,1080 L2336,1085 L2333.5,1085 L2331.5,1080.5 L2327.5,1081.5 Z" fill="#fff"/>
<rect x="2466" y="900" width="21" height="21" rx="4" fill="#3b7ae8"/><path d="M2470,913 L2475,911 L2478,905 L2480.5,905 L2479,910 L2483,909 L2484,907 L2485,907 L2484,911 L2485,915 L2484,915 L2482.5,912.5 L2478.5,913 L2479,918 L2476.5,918 L2474.5,913.5 L2470.5,914.5 Z" fill="#fff"/>
<rect x="1951" y="434" width="19.5" height="20" rx="3.5" fill="#ff6e1f"/><text x="1960.7" y="450.5" font-size="16" font-weight="700" fill="#fff" text-anchor="middle" font-family="DejaVu Sans, sans-serif">₽</text>
<rect x="2168" y="586" width="21" height="21" rx="3.5" fill="#6b5fc0"/><text x="2178.5" y="602" font-size="15" font-weight="700" fill="#fff" text-anchor="middle" font-family="Liberation Sans, sans-serif">P</text>
<rect x="1510" y="537" width="26" height="21" rx="3" fill="#3b7ae8"/><text x="1520" y="553" font-size="15" font-weight="700" fill="#fff" font-family="Liberation Sans, sans-serif">М-9</text>
<rect x="1519" y="1257" width="43.5" height="20.5" rx="3.5" fill="#1e8a4a"/><text x="1540.7" y="1273" font-size="15" font-weight="700" fill="#fff" text-anchor="middle" font-family="Liberation Sans, sans-serif">E101</text>
<circle cx="1551" cy="479" r="3.3" fill="#fff" stroke="#555" stroke-width="1.6"/>
<circle cx="1651" cy="510" r="3.3" fill="#fff" stroke="#555" stroke-width="1.6"/>
<circle cx="1885" cy="420" r="3.3" fill="#fff" stroke="#555" stroke-width="1.6"/>
<circle cx="1859" cy="597" r="3.3" fill="#fff" stroke="#555" stroke-width="1.6"/>
<circle cx="1951" cy="620" r="3.3" fill="#fff" stroke="#555" stroke-width="1.6"/>
<circle cx="2053" cy="397" r="3.3" fill="#fff" stroke="#555" stroke-width="1.6"/>
<circle cx="2035" cy="539" r="3.3" fill="#fff" stroke="#555" stroke-width="1.6"/>
<circle cx="1648" cy="725" r="3.3" fill="#fff" stroke="#555" stroke-width="1.6"/>
<circle cx="1916" cy="784" r="3.3" fill="#fff" stroke="#555" stroke-width="1.6"/>
<circle cx="1770" cy="875" r="3.3" fill="#fff" stroke="#555" stroke-width="1.6"/>
<circle cx="1543" cy="904" r="3.3" fill="#fff" stroke="#555" stroke-width="1.6"/>
<circle cx="2303" cy="690" r="3.3" fill="#fff" stroke="#555" stroke-width="1.6"/>
<circle cx="2404" cy="706" r="3.3" fill="#fff" stroke="#555" stroke-width="1.6"/>
<circle cx="2329" cy="787" r="3.3" fill="#fff" stroke="#555" stroke-width="1.6"/>
<circle cx="2339" cy="899" r="3.3" fill="#fff" stroke="#555" stroke-width="1.6"/>
<circle cx="2207" cy="925" r="3.3" fill="#fff" stroke="#555" stroke-width="1.6"/>
<circle cx="1791" cy="939" r="3.3" fill="#fff" stroke="#555" stroke-width="1.6"/>
<circle cx="1943" cy="1009" r="3.3" fill="#fff" stroke="#555" stroke-width="1.6"/>
<circle cx="1866" cy="1096" r="3.3" fill="#fff" stroke="#555" stroke-width="1.6"/>
<circle cx="1657" cy="1071" r="3.3" fill="#fff" stroke="#555" stroke-width="1.6"/>
<circle cx="1562" cy="1126" r="3.3" fill="#fff" stroke="#555" stroke-width="1.6"/>
<circle cx="1601" cy="1191" r="3.3" fill="#fff" stroke="#555" stroke-width="1.6"/>
<circle cx="1864" cy="1205" r="3.3" fill="#fff" stroke="#555" stroke-width="1.6"/>
<circle cx="2247" cy="1063" r="3.3" fill="#fff" stroke="#555" stroke-width="1.6"/>
<circle cx="2100" cy="1071" r="3.3" fill="#fff" stroke="#555" stroke-width="1.6"/>
<circle cx="2272" cy="1112" r="3.3" fill="#fff" stroke="#555" stroke-width="1.6"/>
<circle cx="2086" cy="1207" r="3.3" fill="#fff" stroke="#555" stroke-width="1.6"/>
<circle cx="2329" cy="1264" r="3.3" fill="#fff" stroke="#555" stroke-width="1.6"/>
<circle cx="2067" cy="1281" r="3.3" fill="#fff" stroke="#555" stroke-width="1.6"/>
<circle cx="2040" cy="1403" r="3.3" fill="#fff" stroke="#555" stroke-width="1.6"/>
<circle cx="2369" cy="1427" r="3.3" fill="#fff" stroke="#555" stroke-width="1.6"/>
<circle cx="1521" cy="1362" r="3.3" fill="#fff" stroke="#555" stroke-width="1.6"/>
<circle cx="2225" cy="517" r="3.3" fill="#fff" stroke="#555" stroke-width="1.6"/>
<g font-family="Liberation Sans, DejaVu Sans, sans-serif" stroke="#fdfdf6" stroke-width="2.5" stroke-opacity="0.85" paint-order="stroke">
<text x="1496" y="446" font-size="21" font-weight="400" fill="#3a3a3a" text-anchor="start" letter-spacing="0.7">Glebovskiy</text>
<text x="1500" y="466" font-size="16" font-weight="400" fill="#3a3a3a" text-anchor="start" letter-spacing="0.65">Глебовский</text>
<text x="1629" y="477" font-size="21" font-weight="400" fill="#3a3a3a" text-anchor="start" letter-spacing="0.7">Istra</text>
<text x="1626" y="498" font-size="16" font-weight="400" fill="#3a3a3a" text-anchor="start" letter-spacing="0.65">Истра</text>
<text x="1821" y="384" font-size="21" font-weight="700" fill="#3a3a3a" text-anchor="start" letter-spacing="1.0">Zelenograd</text>
<text x="1834" y="406" font-size="16" font-weight="700" fill="#3a3a3a" text-anchor="start" letter-spacing="0.65">Зеленоград</text>
<text x="1743" y="596" font-size="21" font-weight="400" fill="#3a3a3a" text-anchor="start" letter-spacing="0.7">Nakhabino</text>
<text x="1771" y="616" font-size="16" font-weight="400" fill="#3a3a3a" text-anchor="start" letter-spacing="0.65">Нахабино</text>
<text x="1884" y="585" font-size="21" font-weight="700" fill="#3a3a3a" text-anchor="start" letter-spacing="1.0">Krasnogorsk</text>
<text x="1898" y="605" font-size="16" font-weight="700" fill="#3a3a3a" text-anchor="start" letter-spacing="0.65">Красногорск</text>
<text x="2018" y="364" font-size="21" font-weight="400" fill="#3a3a3a" text-anchor="start" letter-spacing="0.7">Lobnya</text>
<text x="2028" y="384" font-size="16" font-weight="400" fill="#3a3a3a" text-anchor="start" letter-spacing="0.65">Лобня</text>
<text x="1997" y="453" font-size="21" font-weight="400" fill="#3f66b0" text-anchor="start" letter-spacing="0.7">SVO</text>
<text x="1996" y="505" font-size="21" font-weight="700" fill="#3a3a3a" text-anchor="start" letter-spacing="1.0">Khimki</text>
<text x="2008" y="526" font-size="16" font-weight="700" fill="#3a3a3a" text-anchor="start" letter-spacing="0.65">Химки</text>
<text x="2249" y="362" font-size="21" font-weight="700" fill="#3a3a3a" text-anchor="start" letter-spacing="1.0">Pushkino</text>
<text x="2252" y="382" font-size="16" font-weight="700" fill="#3a3a3a" text-anchor="start" letter-spacing="0.65">Пушкино</text>
<text x="2287" y="524" font-size="16" font-weight="700" fill="#3a3a3a" text-anchor="start" letter-spacing="0.65">Королев</text>
<text x="2299" y="613" font-size="21" font-weight="700" fill="#3a3a3a" text-anchor="start" letter-spacing="1.0">Balashikha</text>
<text x="2316" y="632" font-size="16" font-weight="700" fill="#3a3a3a" text-anchor="start" letter-spacing="0.65">Балашиха</text>
<text x="2433" y="597" font-size="21" font-weight="400" fill="#3a3a3a" text-anchor="start" letter-spacing="0.7">Staraya</text>
<text x="2454" y="616" font-size="16" font-weight="400" fill="#3a3a3a" text-anchor="start" letter-spacing="0.65">Старая</text>
<text x="1591" y="692" font-size="21" font-weight="400" fill="#3a3a3a" text-anchor="start" letter-spacing="0.7">Zvenigorod</text>
<text x="1599" y="712" font-size="16" font-weight="400" fill="#3a3a3a" text-anchor="start" letter-spacing="0.65">Звенигород</text>
<text x="1860" y="749" font-size="21" font-weight="700" fill="#3a3a3a" text-anchor="start" letter-spacing="1.0">Odintsovo</text>
<text x="1873" y="770" font-size="16" font-weight="700" fill="#3a3a3a" text-anchor="start" letter-spacing="0.65">Одинцово</text>
<text x="1685" y="841" font-size="21" font-weight="400" fill="#3a3a3a" text-anchor="start" letter-spacing="0.7">Krasnoznamensk</text>
<text x="1702" y="862" font-size="16" font-weight="400" fill="#3a3a3a" text-anchor="start" letter-spacing="0.65">Краснознаменск</text>
<text x="1503" y="870" font-size="21" font-weight="400" fill="#3a3a3a" text-anchor="start" letter-spacing="0.7">Kubinka</text>
<text x="1504" y="890" font-size="16" font-weight="400" fill="#3a3a3a" text-anchor="start" letter-spacing="0.65">Кубинка</text>
<text x="1913" y="890" font-size="21" font-weight="400" fill="#3f66b0" text-anchor="start" letter-spacing="0.7">VKO</text>
<text x="1976" y="872" font-size="21" font-weight="400" fill="#3a3a3a" text-anchor="start" letter-spacing="0.7">Moskovskiy</text>
<text x="1980" y="891" font-size="16" font-weight="400" fill="#3a3a3a" text-anchor="start" letter-spacing="0.65">Московский</text>
<text x="2092" y="650" font-size="27" font-weight="700" fill="#3a3a3a" text-anchor="start" letter-spacing="1.0">Moscow</text>
<text x="2103" y="677" font-size="22.5" font-weight="700" fill="#3a3a3a" text-anchor="start" letter-spacing="0.8">Москва</text>
<text x="2313" y="687" font-size="21" font-weight="400" fill="#3a3a3a" text-anchor="start" letter-spacing="0.7">Reutov</text>
<text x="2313" y="707" font-size="16" font-weight="400" fill="#3a3a3a" text-anchor="start" letter-spacing="0.65">Реутов</text>
<text x="2414" y="703" font-size="21" font-weight="700" fill="#3a3a3a" text-anchor="start" letter-spacing="1.0">Zheleznodorozhny</text>
<text x="2414" y="724" font-size="16" font-weight="400" fill="#3a3a3a" text-anchor="start" letter-spacing="0.65">Железнодорожный</text>
<text x="2273" y="751" font-size="21" font-weight="700" fill="#3a3a3a" text-anchor="start" letter-spacing="1.0">Lyubertsy</text>
<text x="2287" y="772" font-size="16" font-weight="700" fill="#3a3a3a" text-anchor="start" letter-spacing="0.65">Люберцы</text>
<text x="2293" y="866" font-size="21" font-weight="400" fill="#3a3a3a" text-anchor="start" letter-spacing="0.7">Lytkarino</text>
<text x="2293" y="886" font-size="16" font-weight="400" fill="#3a3a3a" text-anchor="start" letter-spacing="0.65">Лыткарино</text>
<text x="2166" y="889" font-size="21" font-weight="700" fill="#3a3a3a" text-anchor="start" letter-spacing="1.0">Vidnoye</text>
<text x="2178" y="910" font-size="16" font-weight="700" fill="#3a3a3a" text-anchor="start" letter-spacing="0.65">Видное</text>
<text x="2476" y="872" font-size="21" font-weight="700" fill="#3a3a3a" text-anchor="start" letter-spacing="1.0">Ramenskoye</text>
<text x="1743" y="964" font-size="21" font-weight="400" fill="#3a3a3a" text-anchor="start" letter-spacing="0.7">Aprelevka</text>
<text x="1748" y="985" font-size="16" font-weight="400" fill="#3a3a3a" text-anchor="start" letter-spacing="0.65">Апрелевка</text>
<text x="1912" y="975" font-size="21" font-weight="400" fill="#3a3a3a" text-anchor="start" letter-spacing="0.7">Troitsk</text>
<text x="1916" y="995" font-size="16" font-weight="400" fill="#3a3a3a" text-anchor="start" letter-spacing="0.65">Троицк</text>
<text x="1811" y="1064" font-size="21" font-weight="400" fill="#3a3a3a" text-anchor="start" letter-spacing="0.7">Shishkin Les</text>
<text x="1815" y="1085" font-size="16" font-weight="400" fill="#3a3a3a" text-anchor="start" letter-spacing="0.65">Шишкин Лес</text>
<text x="1664" y="1070" font-size="21" font-weight="400" fill="#3a3a3a" text-anchor="start" letter-spacing="0.7">Kiyevskiy</text>
<text x="1664" y="1090" font-size="16" font-weight="400" fill="#3a3a3a" text-anchor="start" letter-spacing="0.65">Киевский</text>
<text x="1631" y="1091" font-size="21" font-weight="400" fill="#3a3a3a" text-anchor="end" letter-spacing="0.7">Naro-Fominsk</text>
<text x="1622" y="1112" font-size="16" font-weight="400" fill="#3a3a3a" text-anchor="end" letter-spacing="0.65">Наро-Фоминск</text>
<text x="1541" y="1158" font-size="21" font-weight="400" fill="#3a3a3a" text-anchor="start" letter-spacing="0.7">Molodyozhny</text>
<text x="1547" y="1178" font-size="16" font-weight="400" fill="#3a3a3a" text-anchor="start" letter-spacing="0.65">Молодёжный</text>
<text x="1844" y="1175" font-size="21" font-weight="400" fill="#3a3a3a" text-anchor="start" letter-spacing="0.7">LMS</text>
<text x="1829" y="1195" font-size="16" font-weight="400" fill="#3a3a3a" text-anchor="start" letter-spacing="0.65">пос. ЛМС</text>
<text x="2173" y="1028" font-size="21" font-weight="700" fill="#3a3a3a" text-anchor="start" letter-spacing="1.0">Domodedovo</text>
<text x="2192" y="1049" font-size="16" font-weight="700" fill="#3a3a3a" text-anchor="start" letter-spacing="0.65">Домодедово</text>
<text x="2315" y="1107" font-size="21" font-weight="400" fill="#3f66b0" text-anchor="start" letter-spacing="0.7">DME</text>
<text x="2061" y="1008" font-size="21" font-weight="400" fill="#3f66b0" text-anchor="start" letter-spacing="0.7">OSF</text>
<text x="2056" y="1099" font-size="21" font-weight="700" fill="#3a3a3a" text-anchor="start" letter-spacing="1.0">Podolsk</text>
<text x="2060" y="1120" font-size="16" font-weight="700" fill="#3a3a3a" text-anchor="start" letter-spacing="0.65">Подольск</text>
<text x="2211" y="1137" font-size="21" font-weight="400" fill="#3a3a3a" text-anchor="start" letter-spacing="0.7">Vostryakovo</text>
<text x="2226" y="1158" font-size="16" font-weight="400" fill="#3a3a3a" text-anchor="start" letter-spacing="0.65">Востряково</text>
<text x="2044" y="1175" font-size="21" font-weight="400" fill="#3a3a3a" text-anchor="start" letter-spacing="0.7">Lvovskiy</text>
<text x="2043" y="1195" font-size="16" font-weight="400" fill="#3a3a3a" text-anchor="start" letter-spacing="0.65">Львовский</text>
<text x="2288" y="1231" font-size="21" font-weight="400" fill="#3a3a3a" text-anchor="start" letter-spacing="0.7">Barybino</text>
<text x="2286" y="1251" font-size="16" font-weight="400" fill="#3a3a3a" text-anchor="start" letter-spacing="0.65">Барыбино</text>
<text x="2018" y="1249" font-size="21" font-weight="400" fill="#3a3a3a" text-anchor="start" letter-spacing="0.7">Stolbovaya</text>
<text x="2025" y="1270" font-size="16" font-weight="400" fill="#3a3a3a" text-anchor="start" letter-spacing="0.65">Столбовая</text>
<text x="1997" y="1372" font-size="21" font-weight="400" fill="#3a3a3a" text-anchor="start" letter-spacing="0.7">Chekhov</text>
<text x="2018" y="1391" font-size="16" font-weight="400" fill="#3a3a3a" text-anchor="start" letter-spacing="0.65">Чехов</text>
<text x="2320" y="1395" font-size="21" font-weight="400" fill="#3a3a3a" text-anchor="start" letter-spacing="0.7">Mikhnevo</text>
<text x="2331" y="1415" font-size="16" font-weight="400" fill="#3a3a3a" text-anchor="start" letter-spacing="0.65">Михнево</text>
<text x="1725" y="1427" font-size="21" font-weight="400" fill="#3a3a3a" text-anchor="start" letter-spacing="0.7">Marinki</text>
<text x="1577" y="1329" font-size="21" font-weight="400" fill="#3a3a3a" text-anchor="end" letter-spacing="0.7">Kubanovo</text>
<text x="1568" y="1349" font-size="16" font-weight="400" fill="#3a3a3a" text-anchor="end" letter-spacing="0.65">Кубаново</text>
</g>
<g opacity="0.8" stroke="#ffffff" stroke-opacity="0.4" stroke-width="1" stroke-linejoin="round">
<path d="M1991.6,462.1 L1990.0,477.0 L1977.3,483.2 L1966.2,474.6 L1967.9,459.7 L1980.6,453.5 Z" fill="rgb(2, 65, 165)"/>
<path d="M2015.4,464.5 L2013.8,479.3 L2001.1,485.6 L1990.0,477.0 L1991.6,462.1 L2004.4,455.9 Z" fill="rgb(2, 65, 165)"/>
<path d="M2110.5,473.9 L2108.8,488.8 L2096.1,495.0 L2085.1,486.4 L2086.8,471.6 L2099.5,465.3 Z" fill="rgb(2, 65, 165)"/>
<path d="M1977.3,483.2 L1975.6,498.1 L1962.9,504.3 L1951.9,495.7 L1953.5,480.9 L1966.2,474.6 Z" fill="rgb(2, 65, 165)"/>
<path d="M2001.1,485.6 L1999.4,500.5 L1986.7,506.7 L1975.6,498.1 L1977.3,483.2 L1990.0,477.0 Z" fill="rgb(2, 65, 165)"/>
<path d="M2119.9,497.4 L2118.2,512.3 L2105.5,518.5 L2094.4,509.9 L2096.1,495.0 L2108.8,488.8 Z" fill="rgb(2, 65, 165)"/>
<path d="M2010.5,509.1 L2008.8,523.9 L1996.1,530.2 L1985.1,521.6 L1986.7,506.7 L1999.4,500.5 Z" fill="rgb(2, 65, 165)"/>
<path d="M2105.5,518.5 L2103.8,533.4 L2091.1,539.6 L2080.0,531.0 L2081.7,516.1 L2094.4,509.9 Z" fill="rgb(2, 65, 165)"/>
<path d="M2129.2,520.9 L2127.5,535.7 L2114.8,542.0 L2103.8,533.4 L2105.5,518.5 L2118.2,512.3 Z" fill="rgb(2, 65, 165)"/>
<path d="M2152.9,523.2 L2151.2,538.1 L2138.5,544.3 L2127.5,535.7 L2129.2,520.9 L2141.9,514.6 Z" fill="rgb(2, 65, 165)"/>
<path d="M2176.7,525.6 L2175.0,540.4 L2162.2,546.7 L2151.2,538.1 L2152.9,523.2 L2165.7,517.0 Z" fill="rgb(2, 65, 165)"/>
<path d="M2200.4,527.9 L2198.7,542.8 L2186.0,549.0 L2175.0,540.4 L2176.7,525.6 L2189.4,519.3 Z" fill="rgb(2, 65, 165)"/>
<path d="M2019.9,532.5 L2018.2,547.4 L2005.5,553.6 L1994.5,545.0 L1996.1,530.2 L2008.8,523.9 Z" fill="rgb(2, 65, 165)"/>
<path d="M2091.1,539.6 L2089.4,554.4 L2076.7,560.7 L2065.7,552.1 L2067.3,537.2 L2080.0,531.0 Z" fill="rgb(2, 65, 165)"/>
<path d="M2114.8,542.0 L2113.1,556.8 L2100.4,563.0 L2089.4,554.4 L2091.1,539.6 L2103.8,533.4 Z" fill="rgb(2, 65, 165)"/>
<path d="M2138.5,544.3 L2136.8,559.2 L2124.1,565.4 L2113.1,556.8 L2114.8,542.0 L2127.5,535.7 Z" fill="rgb(2, 65, 165)"/>
<path d="M2162.2,546.7 L2160.5,561.5 L2147.8,567.7 L2136.8,559.2 L2138.5,544.3 L2151.2,538.1 Z" fill="rgb(2, 65, 165)"/>
<path d="M2186.0,549.0 L2184.2,563.9 L2171.5,570.1 L2160.5,561.5 L2162.2,546.7 L2175.0,540.4 Z" fill="rgb(2, 65, 165)"/>
<path d="M2209.7,551.4 L2207.9,566.2 L2195.2,572.5 L2184.2,563.9 L2186.0,549.0 L2198.7,542.8 Z" fill="rgb(2, 65, 165)"/>
<path d="M2233.4,553.7 L2231.7,568.6 L2218.9,574.8 L2207.9,566.2 L2209.7,551.4 L2222.4,545.1 Z" fill="rgb(2, 65, 165)"/>
<path d="M2029.2,556.0 L2027.6,570.8 L2014.9,577.0 L2003.9,568.4 L2005.5,553.6 L2018.2,547.4 Z" fill="rgb(2, 65, 165)"/>
<path d="M2053.0,558.3 L2051.3,573.1 L2038.6,579.4 L2027.6,570.8 L2029.2,556.0 L2041.9,549.7 Z" fill="rgb(2, 65, 165)"/>
<path d="M2076.7,560.7 L2075.0,575.5 L2062.3,581.7 L2051.3,573.1 L2053.0,558.3 L2065.7,552.1 Z" fill="rgb(2, 65, 165)"/>
<path d="M2100.4,563.0 L2098.7,577.9 L2086.0,584.1 L2075.0,575.5 L2076.7,560.7 L2089.4,554.4 Z" fill="rgb(2, 65, 165)"/>
<path d="M2124.1,565.4 L2122.4,580.2 L2109.7,586.5 L2098.7,577.9 L2100.4,563.0 L2113.1,556.8 Z" fill="rgb(2, 65, 165)"/>
<path d="M2147.8,567.7 L2146.1,582.6 L2133.4,588.8 L2122.4,580.2 L2124.1,565.4 L2136.8,559.2 Z" fill="rgb(2, 65, 165)"/>
<path d="M2171.5,570.1 L2169.8,584.9 L2157.1,591.2 L2146.1,582.6 L2147.8,567.7 L2160.5,561.5 Z" fill="rgb(2, 65, 165)"/>
<path d="M2195.2,572.5 L2193.5,587.3 L2180.8,593.5 L2169.8,584.9 L2171.5,570.1 L2184.2,563.9 Z" fill="rgb(2, 65, 165)"/>
<path d="M2218.9,574.8 L2217.2,589.6 L2204.5,595.9 L2193.5,587.3 L2195.2,572.5 L2207.9,566.2 Z" fill="rgb(2, 65, 165)"/>
<path d="M2242.6,577.2 L2240.9,592.0 L2228.2,598.2 L2217.2,589.6 L2218.9,574.8 L2231.7,568.6 Z" fill="rgb(2, 65, 165)"/>
<path d="M2266.3,579.5 L2264.6,594.4 L2251.9,600.6 L2240.9,592.0 L2242.6,577.2 L2255.4,570.9 Z" fill="rgb(2, 65, 165)"/>
<path d="M1991.2,574.7 L1989.5,589.5 L1976.9,595.7 L1965.8,587.1 L1967.5,572.3 L1980.1,566.1 Z" fill="rgb(2, 65, 165)"/>
<path d="M2014.9,577.0 L2013.2,591.8 L2000.6,598.1 L1989.5,589.5 L1991.2,574.7 L2003.9,568.4 Z" fill="rgb(2, 65, 165)"/>
<path d="M2038.6,579.4 L2036.9,594.2 L2024.3,600.4 L2013.2,591.8 L2014.9,577.0 L2027.6,570.8 Z" fill="rgb(2, 65, 165)"/>
<path d="M2062.3,581.7 L2060.6,596.6 L2048.0,602.8 L2036.9,594.2 L2038.6,579.4 L2051.3,573.1 Z" fill="rgb(2, 65, 165)"/>
<path d="M2086.0,584.1 L2084.3,598.9 L2071.7,605.1 L2060.6,596.6 L2062.3,581.7 L2075.0,575.5 Z" fill="rgb(2, 65, 165)"/>
<path d="M2109.7,586.5 L2108.0,601.3 L2095.3,607.5 L2084.3,598.9 L2086.0,584.1 L2098.7,577.9 Z" fill="rgb(2, 65, 165)"/>
<path d="M2133.4,588.8 L2131.7,603.6 L2119.0,609.9 L2108.0,601.3 L2109.7,586.5 L2122.4,580.2 Z" fill="rgb(2, 65, 165)"/>
<path d="M2157.1,591.2 L2155.4,606.0 L2142.7,612.2 L2131.7,603.6 L2133.4,588.8 L2146.1,582.6 Z" fill="rgb(2, 65, 165)"/>
<path d="M2180.8,593.5 L2179.1,608.3 L2166.4,614.6 L2155.4,606.0 L2157.1,591.2 L2169.8,584.9 Z" fill="rgb(2, 65, 165)"/>
<path d="M2204.5,595.9 L2202.8,610.7 L2190.1,616.9 L2179.1,608.3 L2180.8,593.5 L2193.5,587.3 Z" fill="rgb(2, 65, 165)"/>
<path d="M2228.2,598.2 L2226.5,613.0 L2213.7,619.3 L2202.8,610.7 L2204.5,595.9 L2217.2,589.6 Z" fill="rgb(2, 65, 165)"/>
<path d="M2251.9,600.6 L2250.1,615.4 L2237.4,621.6 L2226.5,613.0 L2228.2,598.2 L2240.9,592.0 Z" fill="rgb(2, 65, 165)"/>
<path d="M2275.5,602.9 L2273.8,617.8 L2261.1,624.0 L2250.1,615.4 L2251.9,600.6 L2264.6,594.4 Z" fill="rgb(2, 65, 165)"/>
<path d="M2299.2,605.3 L2297.5,620.1 L2284.8,626.3 L2273.8,617.8 L2275.5,602.9 L2288.3,596.7 Z" fill="rgb(2, 65, 165)"/>
<path d="M2000.6,598.1 L1998.9,612.9 L1986.3,619.1 L1975.2,610.5 L1976.9,595.7 L1989.5,589.5 Z" fill="rgb(2, 65, 165)"/>
<path d="M2024.3,600.4 L2022.6,615.3 L2009.9,621.5 L1998.9,612.9 L2000.6,598.1 L2013.2,591.8 Z" fill="rgb(2, 65, 165)"/>
<path d="M2048.0,602.8 L2046.3,617.6 L2033.6,623.8 L2022.6,615.3 L2024.3,600.4 L2036.9,594.2 Z" fill="rgb(2, 65, 165)"/>
<path d="M2071.7,605.1 L2070.0,620.0 L2057.3,626.2 L2046.3,617.6 L2048.0,602.8 L2060.6,596.6 Z" fill="rgb(2, 65, 165)"/>
<path d="M2095.3,607.5 L2093.7,622.3 L2081.0,628.5 L2070.0,620.0 L2071.7,605.1 L2084.3,598.9 Z" fill="rgb(2, 65, 165)"/>
<path d="M2119.0,609.9 L2117.3,624.7 L2104.7,630.9 L2093.7,622.3 L2095.3,607.5 L2108.0,601.3 Z" fill="rgb(2, 65, 165)"/>
<path d="M2142.7,612.2 L2141.0,627.0 L2128.3,633.3 L2117.3,624.7 L2119.0,609.9 L2131.7,603.6 Z" fill="rgb(17, 75, 173)"/>
<path d="M2166.4,614.6 L2164.7,629.4 L2152.0,635.6 L2141.0,627.0 L2142.7,612.2 L2155.4,606.0 Z" fill="rgb(17, 75, 173)"/>
<path d="M2190.1,616.9 L2188.4,631.7 L2175.7,638.0 L2164.7,629.4 L2166.4,614.6 L2179.1,608.3 Z" fill="rgb(17, 75, 173)"/>
<path d="M2213.7,619.3 L2212.0,634.1 L2199.3,640.3 L2188.4,631.7 L2190.1,616.9 L2202.8,610.7 Z" fill="rgb(17, 75, 173)"/>
<path d="M2237.4,621.6 L2235.7,636.4 L2223.0,642.7 L2212.0,634.1 L2213.7,619.3 L2226.5,613.0 Z" fill="rgb(2, 65, 165)"/>
<path d="M2261.1,624.0 L2259.3,638.8 L2246.7,645.0 L2235.7,636.4 L2237.4,621.6 L2250.1,615.4 Z" fill="rgb(2, 65, 165)"/>
<path d="M2284.8,626.3 L2283.0,641.1 L2270.3,647.4 L2259.3,638.8 L2261.1,624.0 L2273.8,617.8 Z" fill="rgb(2, 65, 165)"/>
<path d="M2033.6,623.8 L2032.0,638.6 L2019.3,644.9 L2008.3,636.3 L2009.9,621.5 L2022.6,615.3 Z" fill="rgb(2, 65, 165)"/>
<path d="M2057.3,626.2 L2055.6,641.0 L2043.0,647.2 L2032.0,638.6 L2033.6,623.8 L2046.3,617.6 Z" fill="rgb(2, 65, 165)"/>
<path d="M2081.0,628.5 L2079.3,643.3 L2066.6,649.6 L2055.6,641.0 L2057.3,626.2 L2070.0,620.0 Z" fill="rgb(2, 65, 165)"/>
<path d="M2104.7,630.9 L2103.0,645.7 L2090.3,651.9 L2079.3,643.3 L2081.0,628.5 L2093.7,622.3 Z" fill="rgb(2, 65, 165)"/>
<path d="M2128.3,633.3 L2126.6,648.1 L2114.0,654.3 L2103.0,645.7 L2104.7,630.9 L2117.3,624.7 Z" fill="rgb(17, 75, 173)"/>
<path d="M2152.0,635.6 L2150.3,650.4 L2137.6,656.6 L2126.6,648.1 L2128.3,633.3 L2141.0,627.0 Z" fill="rgb(34, 87, 179)"/>
<path d="M2175.7,638.0 L2174.0,652.8 L2161.3,659.0 L2150.3,650.4 L2152.0,635.6 L2164.7,629.4 Z" fill="rgb(34, 87, 179)"/>
<path d="M2199.3,640.3 L2197.6,655.1 L2184.9,661.3 L2174.0,652.8 L2175.7,638.0 L2188.4,631.7 Z" fill="rgb(34, 87, 179)"/>
<path d="M2223.0,642.7 L2221.3,657.5 L2208.6,663.7 L2197.6,655.1 L2199.3,640.3 L2212.0,634.1 Z" fill="rgb(17, 75, 173)"/>
<path d="M2246.7,645.0 L2244.9,659.8 L2232.2,666.0 L2221.3,657.5 L2223.0,642.7 L2235.7,636.4 Z" fill="rgb(2, 65, 165)"/>
<path d="M2270.3,647.4 L2268.6,662.2 L2255.9,668.4 L2244.9,659.8 L2246.7,645.0 L2259.3,638.8 Z" fill="rgb(2, 65, 165)"/>
<path d="M2294.0,649.7 L2292.2,664.5 L2279.5,670.7 L2268.6,662.2 L2270.3,647.4 L2283.0,641.1 Z" fill="rgb(2, 65, 165)"/>
<path d="M1948.3,637.8 L1946.7,652.6 L1934.0,658.8 L1923.0,650.3 L1924.6,635.5 L1937.3,629.2 Z" fill="rgb(2, 65, 165)"/>
<path d="M1972.0,640.2 L1970.3,655.0 L1957.7,661.2 L1946.7,652.6 L1948.3,637.8 L1960.9,631.6 Z" fill="rgb(2, 65, 165)"/>
<path d="M2019.3,644.9 L2017.7,659.7 L2005.0,665.9 L1994.0,657.3 L1995.6,642.5 L2008.3,636.3 Z" fill="rgb(2, 65, 165)"/>
<path d="M2043.0,647.2 L2041.3,662.0 L2028.7,668.2 L2017.7,659.7 L2019.3,644.9 L2032.0,638.6 Z" fill="rgb(2, 65, 165)"/>
<path d="M2066.6,649.6 L2065.0,664.4 L2052.3,670.6 L2041.3,662.0 L2043.0,647.2 L2055.6,641.0 Z" fill="rgb(2, 65, 165)"/>
<path d="M2090.3,651.9 L2088.6,666.7 L2076.0,672.9 L2065.0,664.4 L2066.6,649.6 L2079.3,643.3 Z" fill="rgb(2, 65, 165)"/>
<path d="M2114.0,654.3 L2112.3,669.1 L2099.6,675.3 L2088.6,666.7 L2090.3,651.9 L2103.0,645.7 Z" fill="rgb(17, 75, 173)"/>
<path d="M2137.6,656.6 L2135.9,671.4 L2123.3,677.6 L2112.3,669.1 L2114.0,654.3 L2126.6,648.1 Z" fill="rgb(84, 124, 196)"/>
<path d="M2161.3,659.0 L2159.6,673.8 L2146.9,680.0 L2135.9,671.4 L2137.6,656.6 L2150.3,650.4 Z" fill="rgb(74, 118, 195)"/>
<path d="M2184.9,661.3 L2183.2,676.1 L2170.5,682.3 L2159.6,673.8 L2161.3,659.0 L2174.0,652.8 Z" fill="rgb(43, 93, 183)"/>
<path d="M2208.6,663.7 L2206.9,678.5 L2194.2,684.7 L2183.2,676.1 L2184.9,661.3 L2197.6,655.1 Z" fill="rgb(34, 87, 179)"/>
<path d="M2232.2,666.0 L2230.5,680.8 L2217.8,687.0 L2206.9,678.5 L2208.6,663.7 L2221.3,657.5 Z" fill="rgb(17, 75, 173)"/>
<path d="M2255.9,668.4 L2254.1,683.2 L2241.4,689.4 L2230.5,680.8 L2232.2,666.0 L2244.9,659.8 Z" fill="rgb(2, 65, 165)"/>
<path d="M2279.5,670.7 L2277.8,685.5 L2265.1,691.7 L2254.1,683.2 L2255.9,668.4 L2268.6,662.2 Z" fill="rgb(2, 65, 165)"/>
<path d="M2303.1,673.1 L2301.4,687.9 L2288.7,694.1 L2277.8,685.5 L2279.5,670.7 L2292.2,664.5 Z" fill="rgb(2, 65, 165)"/>
<path d="M1981.3,663.5 L1979.7,678.3 L1967.1,684.5 L1956.1,676.0 L1957.7,661.2 L1970.3,655.0 Z" fill="rgb(2, 65, 165)"/>
<path d="M2005.0,665.9 L2003.4,680.7 L1990.7,686.9 L1979.7,678.3 L1981.3,663.5 L1994.0,657.3 Z" fill="rgb(2, 65, 165)"/>
<path d="M2028.7,668.2 L2027.0,683.0 L2014.4,689.2 L2003.4,680.7 L2005.0,665.9 L2017.7,659.7 Z" fill="rgb(2, 65, 165)"/>
<path d="M2052.3,670.6 L2050.7,685.4 L2038.0,691.6 L2027.0,683.0 L2028.7,668.2 L2041.3,662.0 Z" fill="rgb(2, 65, 165)"/>
<path d="M2076.0,672.9 L2074.3,687.7 L2061.6,693.9 L2050.7,685.4 L2052.3,670.6 L2065.0,664.4 Z" fill="rgb(2, 65, 165)"/>
<path d="M2099.6,675.3 L2097.9,690.1 L2085.3,696.3 L2074.3,687.7 L2076.0,672.9 L2088.6,666.7 Z" fill="rgb(17, 75, 173)"/>
<path d="M2123.3,677.6 L2121.6,692.4 L2108.9,698.6 L2097.9,690.1 L2099.6,675.3 L2112.3,669.1 Z" fill="rgb(55, 105, 189)"/>
<path d="M2146.9,680.0 L2145.2,694.8 L2132.5,701.0 L2121.6,692.4 L2123.3,677.6 L2135.9,671.4 Z" fill="rgb(214, 176, 182)"/>
<path d="M2170.5,682.3 L2168.8,697.1 L2156.2,703.3 L2145.2,694.8 L2146.9,680.0 L2159.6,673.8 Z" fill="rgb(186, 37, 52)"/>
<path d="M2194.2,684.7 L2192.5,699.5 L2179.8,705.7 L2168.8,697.1 L2170.5,682.3 L2183.2,676.1 Z" fill="rgb(49, 99, 183)"/>
<path d="M2217.8,687.0 L2216.1,701.8 L2203.4,708.0 L2192.5,699.5 L2194.2,684.7 L2206.9,678.5 Z" fill="rgb(34, 87, 179)"/>
<path d="M2241.4,689.4 L2239.7,704.2 L2227.0,710.4 L2216.1,701.8 L2217.8,687.0 L2230.5,680.8 Z" fill="rgb(17, 75, 173)"/>
<path d="M2265.1,691.7 L2263.3,706.5 L2250.7,712.7 L2239.7,704.2 L2241.4,689.4 L2254.1,683.2 Z" fill="rgb(2, 65, 165)"/>
<path d="M2288.7,694.1 L2286.9,708.9 L2274.3,715.1 L2263.3,706.5 L2265.1,691.7 L2277.8,685.5 Z" fill="rgb(2, 65, 165)"/>
<path d="M2335.9,698.8 L2334.2,713.6 L2321.5,719.8 L2310.6,711.2 L2312.3,696.4 L2325.0,690.2 Z" fill="rgb(2, 65, 165)"/>
<path d="M2014.4,689.2 L2012.7,704.0 L2000.1,710.2 L1989.1,701.7 L1990.7,686.9 L2003.4,680.7 Z" fill="rgb(2, 65, 165)"/>
<path d="M2038.0,691.6 L2036.4,706.4 L2023.7,712.6 L2012.7,704.0 L2014.4,689.2 L2027.0,683.0 Z" fill="rgb(2, 65, 165)"/>
<path d="M2061.6,693.9 L2060.0,708.7 L2047.3,714.9 L2036.4,706.4 L2038.0,691.6 L2050.7,685.4 Z" fill="rgb(2, 65, 165)"/>
<path d="M2085.3,696.3 L2083.6,711.1 L2071.0,717.3 L2060.0,708.7 L2061.6,693.9 L2074.3,687.7 Z" fill="rgb(2, 65, 165)"/>
<path d="M2108.9,698.6 L2107.2,713.4 L2094.6,719.6 L2083.6,711.1 L2085.3,696.3 L2097.9,690.1 Z" fill="rgb(17, 75, 173)"/>
<path d="M2132.5,701.0 L2130.9,715.8 L2118.2,722.0 L2107.2,713.4 L2108.9,698.6 L2121.6,692.4 Z" fill="rgb(68, 112, 189)"/>
<path d="M2156.2,703.3 L2154.5,718.1 L2141.8,724.3 L2130.9,715.8 L2132.5,701.0 L2145.2,694.8 Z" fill="rgb(222, 216, 214)"/>
<path d="M2179.8,705.7 L2178.1,720.5 L2165.4,726.7 L2154.5,718.1 L2156.2,703.3 L2168.8,697.1 Z" fill="rgb(99, 136, 195)"/>
<path d="M2203.4,708.0 L2201.7,722.8 L2189.0,729.0 L2178.1,720.5 L2179.8,705.7 L2192.5,699.5 Z" fill="rgb(34, 87, 179)"/>
<path d="M2227.0,710.4 L2225.3,725.2 L2212.6,731.4 L2201.7,722.8 L2203.4,708.0 L2216.1,701.8 Z" fill="rgb(17, 75, 173)"/>
<path d="M2250.7,712.7 L2248.9,727.5 L2236.3,733.7 L2225.3,725.2 L2227.0,710.4 L2239.7,704.2 Z" fill="rgb(2, 65, 165)"/>
<path d="M2274.3,715.1 L2272.5,729.9 L2259.9,736.1 L2248.9,727.5 L2250.7,712.7 L2263.3,706.5 Z" fill="rgb(2, 65, 165)"/>
<path d="M2297.9,717.4 L2296.1,732.2 L2283.5,738.4 L2272.5,729.9 L2274.3,715.1 L2286.9,708.9 Z" fill="rgb(2, 65, 165)"/>
<path d="M2321.5,719.8 L2319.7,734.6 L2307.0,740.8 L2296.1,732.2 L2297.9,717.4 L2310.6,711.2 Z" fill="rgb(2, 65, 165)"/>
<path d="M2368.7,724.5 L2366.9,739.3 L2354.2,745.5 L2343.3,736.9 L2345.1,722.1 L2357.8,715.9 Z" fill="rgb(2, 65, 165)"/>
<path d="M2023.7,712.6 L2022.1,727.4 L2009.4,733.6 L1998.4,725.0 L2000.1,710.2 L2012.7,704.0 Z" fill="rgb(2, 65, 165)"/>
<path d="M2047.3,714.9 L2045.7,729.7 L2033.0,735.9 L2022.1,727.4 L2023.7,712.6 L2036.4,706.4 Z" fill="rgb(2, 65, 165)"/>
<path d="M2071.0,717.3 L2069.3,732.1 L2056.7,738.3 L2045.7,729.7 L2047.3,714.9 L2060.0,708.7 Z" fill="rgb(2, 65, 165)"/>
<path d="M2094.6,719.6 L2092.9,734.4 L2080.3,740.6 L2069.3,732.1 L2071.0,717.3 L2083.6,711.1 Z" fill="rgb(2, 65, 165)"/>
<path d="M2118.2,722.0 L2116.5,736.8 L2103.9,743.0 L2092.9,734.4 L2094.6,719.6 L2107.2,713.4 Z" fill="rgb(17, 75, 173)"/>
<path d="M2141.8,724.3 L2140.1,739.1 L2127.5,745.3 L2116.5,736.8 L2118.2,722.0 L2130.9,715.8 Z" fill="rgb(55, 105, 189)"/>
<path d="M2165.4,726.7 L2163.7,741.5 L2151.1,747.7 L2140.1,739.1 L2141.8,724.3 L2154.5,718.1 Z" fill="rgb(68, 112, 189)"/>
<path d="M2189.0,729.0 L2187.3,743.8 L2174.7,750.0 L2163.7,741.5 L2165.4,726.7 L2178.1,720.5 Z" fill="rgb(34, 87, 179)"/>
<path d="M2212.6,731.4 L2210.9,746.1 L2198.3,752.4 L2187.3,743.8 L2189.0,729.0 L2201.7,722.8 Z" fill="rgb(17, 75, 173)"/>
<path d="M2236.3,733.7 L2234.5,748.5 L2221.9,754.7 L2210.9,746.1 L2212.6,731.4 L2225.3,725.2 Z" fill="rgb(2, 65, 165)"/>
<path d="M2259.9,736.1 L2258.1,750.8 L2245.5,757.0 L2234.5,748.5 L2236.3,733.7 L2248.9,727.5 Z" fill="rgb(2, 65, 165)"/>
<path d="M2283.5,738.4 L2281.7,753.2 L2269.0,759.4 L2258.1,750.8 L2259.9,736.1 L2272.5,729.9 Z" fill="rgb(2, 65, 165)"/>
<path d="M2307.0,740.8 L2305.3,755.5 L2292.6,761.7 L2281.7,753.2 L2283.5,738.4 L2296.1,732.2 Z" fill="rgb(2, 65, 165)"/>
<path d="M2330.6,743.1 L2328.9,757.9 L2316.2,764.1 L2305.3,755.5 L2307.0,740.8 L2319.7,734.6 Z" fill="rgb(2, 65, 165)"/>
<path d="M2354.2,745.5 L2352.5,760.2 L2339.8,766.4 L2328.9,757.9 L2330.6,743.1 L2343.3,736.9 Z" fill="rgb(2, 65, 165)"/>
<path d="M2377.8,747.8 L2376.0,762.6 L2363.4,768.8 L2352.5,760.2 L2354.2,745.5 L2366.9,739.3 Z" fill="rgb(2, 65, 165)"/>
<path d="M1820.4,714.8 L1818.8,729.6 L1806.2,735.8 L1795.2,727.2 L1796.8,712.4 L1809.4,706.2 Z" fill="rgb(2, 65, 165)"/>
<path d="M2009.4,733.6 L2007.8,748.3 L1995.2,754.5 L1984.2,746.0 L1985.8,731.2 L1998.4,725.0 Z" fill="rgb(2, 65, 165)"/>
<path d="M2033.0,735.9 L2031.4,750.7 L2018.8,756.9 L2007.8,748.3 L2009.4,733.6 L2022.1,727.4 Z" fill="rgb(2, 65, 165)"/>
<path d="M2056.7,738.3 L2055.0,753.0 L2042.4,759.2 L2031.4,750.7 L2033.0,735.9 L2045.7,729.7 Z" fill="rgb(2, 65, 165)"/>
<path d="M2080.3,740.6 L2078.6,755.4 L2066.0,761.6 L2055.0,753.0 L2056.7,738.3 L2069.3,732.1 Z" fill="rgb(2, 65, 165)"/>
<path d="M2103.9,743.0 L2102.2,757.7 L2089.6,763.9 L2078.6,755.4 L2080.3,740.6 L2092.9,734.4 Z" fill="rgb(2, 65, 165)"/>
<path d="M2127.5,745.3 L2125.8,760.1 L2113.2,766.3 L2102.2,757.7 L2103.9,743.0 L2116.5,736.8 Z" fill="rgb(17, 75, 173)"/>
<path d="M2151.1,747.7 L2149.4,762.4 L2136.7,768.6 L2125.8,760.1 L2127.5,745.3 L2140.1,739.1 Z" fill="rgb(17, 75, 173)"/>
<path d="M2174.7,750.0 L2173.0,764.8 L2160.3,771.0 L2149.4,762.4 L2151.1,747.7 L2163.7,741.5 Z" fill="rgb(17, 75, 173)"/>
<path d="M2198.3,752.4 L2196.6,767.1 L2183.9,773.3 L2173.0,764.8 L2174.7,750.0 L2187.3,743.8 Z" fill="rgb(17, 75, 173)"/>
<path d="M2221.9,754.7 L2220.1,769.5 L2207.5,775.7 L2196.6,767.1 L2198.3,752.4 L2210.9,746.1 Z" fill="rgb(2, 65, 165)"/>
<path d="M2245.5,757.0 L2243.7,771.8 L2231.1,778.0 L2220.1,769.5 L2221.9,754.7 L2234.5,748.5 Z" fill="rgb(2, 65, 165)"/>
<path d="M2269.0,759.4 L2267.3,774.1 L2254.6,780.4 L2243.7,771.8 L2245.5,757.0 L2258.1,750.8 Z" fill="rgb(2, 65, 165)"/>
<path d="M2292.6,761.7 L2290.9,776.5 L2278.2,782.7 L2267.3,774.1 L2269.0,759.4 L2281.7,753.2 Z" fill="rgb(2, 65, 165)"/>
<path d="M2316.2,764.1 L2314.4,778.8 L2301.8,785.0 L2290.9,776.5 L2292.6,761.7 L2305.3,755.5 Z" fill="rgb(2, 65, 165)"/>
<path d="M2363.4,768.8 L2361.6,783.5 L2348.9,789.7 L2338.0,781.2 L2339.8,766.4 L2352.5,760.2 Z" fill="rgb(2, 65, 165)"/>
<path d="M2386.9,771.1 L2385.1,785.9 L2372.5,792.1 L2361.6,783.5 L2363.4,768.8 L2376.0,762.6 Z" fill="rgb(2, 65, 165)"/>
<path d="M1782.6,733.4 L1781.1,748.2 L1768.5,754.4 L1757.4,745.8 L1759.0,731.1 L1771.6,724.9 Z" fill="rgb(2, 65, 165)"/>
<path d="M1995.2,754.5 L1993.5,769.3 L1980.9,775.5 L1969.9,767.0 L1971.6,752.2 L1984.2,746.0 Z" fill="rgb(2, 65, 165)"/>
<path d="M2042.4,759.2 L2040.7,774.0 L2028.1,780.2 L2017.1,771.7 L2018.8,756.9 L2031.4,750.7 Z" fill="rgb(2, 65, 165)"/>
<path d="M2066.0,761.6 L2064.3,776.3 L2051.7,782.5 L2040.7,774.0 L2042.4,759.2 L2055.0,753.0 Z" fill="rgb(2, 65, 165)"/>
<path d="M2089.6,763.9 L2087.9,778.7 L2075.3,784.9 L2064.3,776.3 L2066.0,761.6 L2078.6,755.4 Z" fill="rgb(2, 65, 165)"/>
<path d="M2113.2,766.3 L2111.5,781.0 L2098.8,787.2 L2087.9,778.7 L2089.6,763.9 L2102.2,757.7 Z" fill="rgb(2, 65, 165)"/>
<path d="M2136.7,768.6 L2135.1,783.4 L2122.4,789.6 L2111.5,781.0 L2113.2,766.3 L2125.8,760.1 Z" fill="rgb(2, 65, 165)"/>
<path d="M2160.3,771.0 L2158.6,785.7 L2146.0,791.9 L2135.1,783.4 L2136.7,768.6 L2149.4,762.4 Z" fill="rgb(2, 65, 165)"/>
<path d="M2183.9,773.3 L2182.2,788.1 L2169.6,794.3 L2158.6,785.7 L2160.3,771.0 L2173.0,764.8 Z" fill="rgb(2, 65, 165)"/>
<path d="M2207.5,775.7 L2205.8,790.4 L2193.1,796.6 L2182.2,788.1 L2183.9,773.3 L2196.6,767.1 Z" fill="rgb(2, 65, 165)"/>
<path d="M2231.1,778.0 L2229.3,792.8 L2216.7,799.0 L2205.8,790.4 L2207.5,775.7 L2220.1,769.5 Z" fill="rgb(2, 65, 165)"/>
<path d="M2254.6,780.4 L2252.9,795.1 L2240.3,801.3 L2229.3,792.8 L2231.1,778.0 L2243.7,771.8 Z" fill="rgb(2, 65, 165)"/>
<path d="M2278.2,782.7 L2276.5,797.4 L2263.8,803.6 L2252.9,795.1 L2254.6,780.4 L2267.3,774.1 Z" fill="rgb(2, 65, 165)"/>
<path d="M2301.8,785.0 L2300.0,799.8 L2287.4,806.0 L2276.5,797.4 L2278.2,782.7 L2290.9,776.5 Z" fill="rgb(2, 65, 165)"/>
<path d="M1980.9,775.5 L1979.3,790.3 L1966.7,796.5 L1955.7,787.9 L1957.3,773.2 L1969.9,767.0 Z" fill="rgb(2, 65, 165)"/>
<path d="M2028.1,780.2 L2026.4,794.9 L2013.8,801.1 L2002.9,792.6 L2004.5,777.9 L2017.1,771.7 Z" fill="rgb(2, 65, 165)"/>
<path d="M2051.7,782.5 L2050.0,797.3 L2037.4,803.5 L2026.4,794.9 L2028.1,780.2 L2040.7,774.0 Z" fill="rgb(2, 65, 165)"/>
<path d="M2075.3,784.9 L2073.6,799.6 L2061.0,805.8 L2050.0,797.3 L2051.7,782.5 L2064.3,776.3 Z" fill="rgb(2, 65, 165)"/>
<path d="M2098.8,787.2 L2097.2,802.0 L2084.6,808.2 L2073.6,799.6 L2075.3,784.9 L2087.9,778.7 Z" fill="rgb(2, 65, 165)"/>
<path d="M2122.4,789.6 L2120.7,804.3 L2108.1,810.5 L2097.2,802.0 L2098.8,787.2 L2111.5,781.0 Z" fill="rgb(2, 65, 165)"/>
<path d="M2146.0,791.9 L2144.3,806.7 L2131.7,812.9 L2120.7,804.3 L2122.4,789.6 L2135.1,783.4 Z" fill="rgb(2, 65, 165)"/>
<path d="M2169.6,794.3 L2167.9,809.0 L2155.2,815.2 L2144.3,806.7 L2146.0,791.9 L2158.6,785.7 Z" fill="rgb(2, 65, 165)"/>
<path d="M2193.1,796.6 L2191.4,811.4 L2178.8,817.5 L2167.9,809.0 L2169.6,794.3 L2182.2,788.1 Z" fill="rgb(2, 65, 165)"/>
<path d="M2216.7,799.0 L2215.0,813.7 L2202.3,819.9 L2191.4,811.4 L2193.1,796.6 L2205.8,790.4 Z" fill="rgb(2, 65, 165)"/>
<path d="M2240.3,801.3 L2238.5,816.0 L2225.9,822.2 L2215.0,813.7 L2216.7,799.0 L2229.3,792.8 Z" fill="rgb(2, 65, 165)"/>
<path d="M2263.8,803.6 L2262.1,818.4 L2249.4,824.6 L2238.5,816.0 L2240.3,801.3 L2252.9,795.1 Z" fill="rgb(2, 65, 165)"/>
<path d="M2287.4,806.0 L2285.6,820.7 L2273.0,826.9 L2262.1,818.4 L2263.8,803.6 L2276.5,797.4 Z" fill="rgb(2, 65, 165)"/>
<path d="M1966.7,796.5 L1965.1,811.2 L1952.5,817.4 L1941.5,808.9 L1943.1,794.1 L1955.7,787.9 Z" fill="rgb(2, 65, 165)"/>
<path d="M1990.3,798.8 L1988.6,813.5 L1976.0,819.7 L1965.1,811.2 L1966.7,796.5 L1979.3,790.3 Z" fill="rgb(2, 65, 165)"/>
<path d="M2013.8,801.1 L2012.2,815.9 L1999.6,822.1 L1988.6,813.5 L1990.3,798.8 L2002.9,792.6 Z" fill="rgb(2, 65, 165)"/>
<path d="M2037.4,803.5 L2035.8,818.2 L2023.2,824.4 L2012.2,815.9 L2013.8,801.1 L2026.4,794.9 Z" fill="rgb(2, 65, 165)"/>
<path d="M2061.0,805.8 L2059.3,820.6 L2046.7,826.8 L2035.8,818.2 L2037.4,803.5 L2050.0,797.3 Z" fill="rgb(2, 65, 165)"/>
<path d="M2084.6,808.2 L2082.9,822.9 L2070.3,829.1 L2059.3,820.6 L2061.0,805.8 L2073.6,799.6 Z" fill="rgb(2, 65, 165)"/>
<path d="M2108.1,810.5 L2106.4,825.3 L2093.8,831.5 L2082.9,822.9 L2084.6,808.2 L2097.2,802.0 Z" fill="rgb(2, 65, 165)"/>
<path d="M2131.7,812.9 L2130.0,827.6 L2117.4,833.8 L2106.4,825.3 L2108.1,810.5 L2120.7,804.3 Z" fill="rgb(2, 65, 165)"/>
<path d="M2155.2,815.2 L2153.5,829.9 L2140.9,836.1 L2130.0,827.6 L2131.7,812.9 L2144.3,806.7 Z" fill="rgb(2, 65, 165)"/>
<path d="M2178.8,817.5 L2177.1,832.3 L2164.5,838.5 L2153.5,829.9 L2155.2,815.2 L2167.9,809.0 Z" fill="rgb(2, 65, 165)"/>
<path d="M2202.3,819.9 L2200.6,834.6 L2188.0,840.8 L2177.1,832.3 L2178.8,817.5 L2191.4,811.4 Z" fill="rgb(2, 65, 165)"/>
<path d="M2225.9,822.2 L2224.2,837.0 L2211.6,843.2 L2200.6,834.6 L2202.3,819.9 L2215.0,813.7 Z" fill="rgb(2, 65, 165)"/>
<path d="M2249.4,824.6 L2247.7,839.3 L2235.1,845.5 L2224.2,837.0 L2225.9,822.2 L2238.5,816.0 Z" fill="rgb(2, 65, 165)"/>
<path d="M2273.0,826.9 L2271.3,841.6 L2258.6,847.8 L2247.7,839.3 L2249.4,824.6 L2262.1,818.4 Z" fill="rgb(2, 65, 165)"/>
<path d="M1928.9,815.1 L1927.3,829.8 L1914.7,836.0 L1903.7,827.4 L1905.3,812.7 L1917.9,806.5 Z" fill="rgb(2, 65, 165)"/>
<path d="M1952.5,817.4 L1950.8,832.1 L1938.3,838.3 L1927.3,829.8 L1928.9,815.1 L1941.5,808.9 Z" fill="rgb(2, 65, 165)"/>
<path d="M1976.0,819.7 L1974.4,834.5 L1961.8,840.7 L1950.8,832.1 L1952.5,817.4 L1965.1,811.2 Z" fill="rgb(2, 65, 165)"/>
<path d="M1999.6,822.1 L1998.0,836.8 L1985.4,843.0 L1974.4,834.5 L1976.0,819.7 L1988.6,813.5 Z" fill="rgb(2, 65, 165)"/>
<path d="M2023.2,824.4 L2021.5,839.2 L2008.9,845.3 L1998.0,836.8 L1999.6,822.1 L2012.2,815.9 Z" fill="rgb(2, 65, 165)"/>
<path d="M2046.7,826.8 L2045.1,841.5 L2032.5,847.7 L2021.5,839.2 L2023.2,824.4 L2035.8,818.2 Z" fill="rgb(2, 65, 165)"/>
<path d="M2070.3,829.1 L2068.6,843.8 L2056.0,850.0 L2045.1,841.5 L2046.7,826.8 L2059.3,820.6 Z" fill="rgb(2, 65, 165)"/>
<path d="M2093.8,831.5 L2092.2,846.2 L2079.6,852.4 L2068.6,843.8 L2070.3,829.1 L2082.9,822.9 Z" fill="rgb(2, 65, 165)"/>
<path d="M2117.4,833.8 L2115.7,848.5 L2103.1,854.7 L2092.2,846.2 L2093.8,831.5 L2106.4,825.3 Z" fill="rgb(2, 65, 165)"/>
<path d="M2140.9,836.1 L2139.2,850.9 L2126.6,857.1 L2115.7,848.5 L2117.4,833.8 L2130.0,827.6 Z" fill="rgb(2, 65, 165)"/>
<path d="M2164.5,838.5 L2162.8,853.2 L2150.2,859.4 L2139.2,850.9 L2140.9,836.1 L2153.5,829.9 Z" fill="rgb(2, 65, 165)"/>
<path d="M2188.0,840.8 L2186.3,855.5 L2173.7,861.7 L2162.8,853.2 L2164.5,838.5 L2177.1,832.3 Z" fill="rgb(2, 65, 165)"/>
<path d="M2211.6,843.2 L2209.8,857.9 L2197.2,864.1 L2186.3,855.5 L2188.0,840.8 L2200.6,834.6 Z" fill="rgb(2, 65, 165)"/>
<path d="M2235.1,845.5 L2233.4,860.2 L2220.7,866.4 L2209.8,857.9 L2211.6,843.2 L2224.2,837.0 Z" fill="rgb(2, 65, 165)"/>
<path d="M2258.6,847.8 L2256.9,862.6 L2244.3,868.8 L2233.4,860.2 L2235.1,845.5 L2247.7,839.3 Z" fill="rgb(2, 65, 165)"/>
<path d="M1914.7,836.0 L1913.1,850.7 L1900.5,856.9 L1889.5,848.4 L1891.1,833.6 L1903.7,827.4 Z" fill="rgb(2, 65, 165)"/>
<path d="M1938.3,838.3 L1936.6,853.0 L1924.1,859.2 L1913.1,850.7 L1914.7,836.0 L1927.3,829.8 Z" fill="rgb(2, 65, 165)"/>
<path d="M1961.8,840.7 L1960.2,855.4 L1947.6,861.6 L1936.6,853.0 L1938.3,838.3 L1950.8,832.1 Z" fill="rgb(2, 65, 165)"/>
<path d="M1985.4,843.0 L1983.7,857.7 L1971.2,863.9 L1960.2,855.4 L1961.8,840.7 L1974.4,834.5 Z" fill="rgb(2, 65, 165)"/>
<path d="M2008.9,845.3 L2007.3,860.1 L1994.7,866.3 L1983.7,857.7 L1985.4,843.0 L1998.0,836.8 Z" fill="rgb(2, 65, 165)"/>
<path d="M2032.5,847.7 L2030.8,862.4 L2018.2,868.6 L2007.3,860.1 L2008.9,845.3 L2021.5,839.2 Z" fill="rgb(2, 65, 165)"/>
<path d="M2056.0,850.0 L2054.4,864.8 L2041.8,870.9 L2030.8,862.4 L2032.5,847.7 L2045.1,841.5 Z" fill="rgb(2, 65, 165)"/>
<path d="M2079.6,852.4 L2077.9,867.1 L2065.3,873.3 L2054.4,864.8 L2056.0,850.0 L2068.6,843.8 Z" fill="rgb(2, 65, 165)"/>
<path d="M2103.1,854.7 L2101.4,869.4 L2088.8,875.6 L2077.9,867.1 L2079.6,852.4 L2092.2,846.2 Z" fill="rgb(2, 65, 165)"/>
<path d="M2126.6,857.1 L2124.9,871.8 L2112.3,878.0 L2101.4,869.4 L2103.1,854.7 L2115.7,848.5 Z" fill="rgb(2, 65, 165)"/>
<path d="M2150.2,859.4 L2148.5,874.1 L2135.9,880.3 L2124.9,871.8 L2126.6,857.1 L2139.2,850.9 Z" fill="rgb(2, 65, 165)"/>
<path d="M2173.7,861.7 L2172.0,876.4 L2159.4,882.6 L2148.5,874.1 L2150.2,859.4 L2162.8,853.2 Z" fill="rgb(2, 65, 165)"/>
<path d="M2197.2,864.1 L2195.5,878.8 L2182.9,885.0 L2172.0,876.4 L2173.7,861.7 L2186.3,855.5 Z" fill="rgb(2, 65, 165)"/>
<path d="M2220.7,866.4 L2219.0,881.1 L2206.4,887.3 L2195.5,878.8 L2197.2,864.1 L2209.8,857.9 Z" fill="rgb(2, 65, 165)"/>
<path d="M2244.3,868.8 L2242.5,883.5 L2229.9,889.7 L2219.0,881.1 L2220.7,866.4 L2233.4,860.2 Z" fill="rgb(2, 65, 165)"/>
<path d="M1900.5,856.9 L1898.9,871.6 L1886.4,877.8 L1875.4,869.3 L1877.0,854.6 L1889.5,848.4 Z" fill="rgb(2, 65, 165)"/>
<path d="M1924.1,859.2 L1922.5,874.0 L1909.9,880.1 L1898.9,871.6 L1900.5,856.9 L1913.1,850.7 Z" fill="rgb(2, 65, 165)"/>
<path d="M1947.6,861.6 L1946.0,876.3 L1933.4,882.5 L1922.5,874.0 L1924.1,859.2 L1936.6,853.0 Z" fill="rgb(2, 65, 165)"/>
<path d="M1971.2,863.9 L1969.5,878.6 L1957.0,884.8 L1946.0,876.3 L1947.6,861.6 L1960.2,855.4 Z" fill="rgb(2, 65, 165)"/>
<path d="M2018.2,868.6 L2016.6,883.3 L2004.0,889.5 L1993.1,881.0 L1994.7,866.3 L2007.3,860.1 Z" fill="rgb(2, 65, 165)"/>
<path d="M2041.8,870.9 L2040.1,885.7 L2027.5,891.8 L2016.6,883.3 L2018.2,868.6 L2030.8,862.4 Z" fill="rgb(2, 65, 165)"/>
<path d="M2065.3,873.3 L2063.6,888.0 L2051.1,894.2 L2040.1,885.7 L2041.8,870.9 L2054.4,864.8 Z" fill="rgb(2, 65, 165)"/>
<path d="M2088.8,875.6 L2087.2,890.3 L2074.6,896.5 L2063.6,888.0 L2065.3,873.3 L2077.9,867.1 Z" fill="rgb(2, 65, 165)"/>
<path d="M2112.3,878.0 L2110.7,892.7 L2098.1,898.9 L2087.2,890.3 L2088.8,875.6 L2101.4,869.4 Z" fill="rgb(2, 65, 165)"/>
<path d="M2135.9,880.3 L2134.2,895.0 L2121.6,901.2 L2110.7,892.7 L2112.3,878.0 L2124.9,871.8 Z" fill="rgb(2, 65, 165)"/>
<path d="M2159.4,882.6 L2157.7,897.3 L2145.1,903.5 L2134.2,895.0 L2135.9,880.3 L2148.5,874.1 Z" fill="rgb(2, 65, 165)"/>
<path d="M2182.9,885.0 L2181.2,899.7 L2168.6,905.9 L2157.7,897.3 L2159.4,882.6 L2172.0,876.4 Z" fill="rgb(2, 65, 165)"/>
<path d="M2206.4,887.3 L2204.7,902.0 L2192.1,908.2 L2181.2,899.7 L2182.9,885.0 L2195.5,878.8 Z" fill="rgb(2, 65, 165)"/>
<path d="M1839.3,873.1 L1837.7,887.8 L1825.2,894.0 L1814.2,885.5 L1815.7,870.8 L1828.3,864.6 Z" fill="rgb(2, 65, 165)"/>
<path d="M1862.8,875.5 L1861.2,890.2 L1848.7,896.4 L1837.7,887.8 L1839.3,873.1 L1851.8,866.9 Z" fill="rgb(2, 65, 165)"/>
<path d="M1886.4,877.8 L1884.8,892.5 L1872.2,898.7 L1861.2,890.2 L1862.8,875.5 L1875.4,869.3 Z" fill="rgb(2, 65, 165)"/>
<path d="M1909.9,880.1 L1908.3,894.9 L1895.7,901.0 L1884.8,892.5 L1886.4,877.8 L1898.9,871.6 Z" fill="rgb(2, 65, 165)"/>
<path d="M1933.4,882.5 L1931.8,897.2 L1919.3,903.4 L1908.3,894.9 L1909.9,880.1 L1922.5,874.0 Z" fill="rgb(2, 65, 165)"/>
<path d="M1957.0,884.8 L1955.3,899.5 L1942.8,905.7 L1931.8,897.2 L1933.4,882.5 L1946.0,876.3 Z" fill="rgb(2, 65, 165)"/>
<path d="M1980.5,887.2 L1978.9,901.9 L1966.3,908.0 L1955.3,899.5 L1957.0,884.8 L1969.5,878.6 Z" fill="rgb(2, 65, 165)"/>
<path d="M2027.5,891.8 L2025.9,906.5 L2013.3,912.7 L2002.4,904.2 L2004.0,889.5 L2016.6,883.3 Z" fill="rgb(2, 65, 165)"/>
<path d="M2051.1,894.2 L2049.4,908.9 L2036.8,915.1 L2025.9,906.5 L2027.5,891.8 L2040.1,885.7 Z" fill="rgb(2, 65, 165)"/>
<path d="M2074.6,896.5 L2072.9,911.2 L2060.3,917.4 L2049.4,908.9 L2051.1,894.2 L2063.6,888.0 Z" fill="rgb(2, 65, 165)"/>
<path d="M2098.1,898.9 L2096.4,913.6 L2083.8,919.7 L2072.9,911.2 L2074.6,896.5 L2087.2,890.3 Z" fill="rgb(2, 65, 165)"/>
<path d="M2121.6,901.2 L2119.9,915.9 L2107.3,922.1 L2096.4,913.6 L2098.1,898.9 L2110.7,892.7 Z" fill="rgb(2, 65, 165)"/>
<path d="M2145.1,903.5 L2143.4,918.2 L2130.8,924.4 L2119.9,915.9 L2121.6,901.2 L2134.2,895.0 Z" fill="rgb(2, 65, 165)"/>
<path d="M1825.2,894.0 L1823.6,908.7 L1811.1,914.9 L1800.1,906.4 L1801.6,891.7 L1814.2,885.5 Z" fill="rgb(2, 65, 165)"/>
<path d="M1848.7,896.4 L1847.1,911.1 L1834.6,917.2 L1823.6,908.7 L1825.2,894.0 L1837.7,887.8 Z" fill="rgb(2, 65, 165)"/>
<path d="M1872.2,898.7 L1870.6,913.4 L1858.1,919.6 L1847.1,911.1 L1848.7,896.4 L1861.2,890.2 Z" fill="rgb(2, 65, 165)"/>
<path d="M1895.7,901.0 L1894.2,915.7 L1881.6,921.9 L1870.6,913.4 L1872.2,898.7 L1884.8,892.5 Z" fill="rgb(2, 65, 165)"/>
<path d="M1919.3,903.4 L1917.7,918.1 L1905.1,924.3 L1894.2,915.7 L1895.7,901.0 L1908.3,894.9 Z" fill="rgb(2, 65, 165)"/>
<path d="M1942.8,905.7 L1941.2,920.4 L1928.6,926.6 L1917.7,918.1 L1919.3,903.4 L1931.8,897.2 Z" fill="rgb(2, 65, 165)"/>
<path d="M1966.3,908.0 L1964.7,922.7 L1952.1,928.9 L1941.2,920.4 L1942.8,905.7 L1955.3,899.5 Z" fill="rgb(2, 65, 165)"/>
<path d="M1989.8,910.4 L1988.2,925.1 L1975.6,931.3 L1964.7,922.7 L1966.3,908.0 L1978.9,901.9 Z" fill="rgb(2, 65, 165)"/>
<path d="M2013.3,912.7 L2011.7,927.4 L1999.1,933.6 L1988.2,925.1 L1989.8,910.4 L2002.4,904.2 Z" fill="rgb(2, 65, 165)"/>
<path d="M2036.8,915.1 L2035.2,929.8 L2022.6,935.9 L2011.7,927.4 L2013.3,912.7 L2025.9,906.5 Z" fill="rgb(2, 65, 165)"/>
<path d="M2060.3,917.4 L2058.7,932.1 L2046.1,938.3 L2035.2,929.8 L2036.8,915.1 L2049.4,908.9 Z" fill="rgb(2, 65, 165)"/>
<path d="M2083.8,919.7 L2082.2,934.4 L2069.6,940.6 L2058.7,932.1 L2060.3,917.4 L2072.9,911.2 Z" fill="rgb(2, 65, 165)"/>
<path d="M2107.3,922.1 L2105.7,936.8 L2093.1,942.9 L2082.2,934.4 L2083.8,919.7 L2096.4,913.6 Z" fill="rgb(2, 65, 165)"/>
<path d="M2130.8,924.4 L2129.1,939.1 L2116.6,945.3 L2105.7,936.8 L2107.3,922.1 L2119.9,915.9 Z" fill="rgb(2, 65, 165)"/>
<path d="M1834.6,917.2 L1833.0,931.9 L1820.5,938.1 L1809.5,929.6 L1811.1,914.9 L1823.6,908.7 Z" fill="rgb(2, 65, 165)"/>
<path d="M1858.1,919.6 L1856.5,934.3 L1844.0,940.5 L1833.0,931.9 L1834.6,917.2 L1847.1,911.1 Z" fill="rgb(2, 65, 165)"/>
<path d="M1881.6,921.9 L1880.0,936.6 L1867.5,942.8 L1856.5,934.3 L1858.1,919.6 L1870.6,913.4 Z" fill="rgb(2, 65, 165)"/>
<path d="M1905.1,924.3 L1903.5,938.9 L1891.0,945.1 L1880.0,936.6 L1881.6,921.9 L1894.2,915.7 Z" fill="rgb(2, 65, 165)"/>
<path d="M1928.6,926.6 L1927.0,941.3 L1914.5,947.5 L1903.5,938.9 L1905.1,924.3 L1917.7,918.1 Z" fill="rgb(2, 65, 165)"/>
<path d="M1952.1,928.9 L1950.5,943.6 L1938.0,949.8 L1927.0,941.3 L1928.6,926.6 L1941.2,920.4 Z" fill="rgb(2, 65, 165)"/>
<path d="M1975.6,931.3 L1974.0,946.0 L1961.4,952.1 L1950.5,943.6 L1952.1,928.9 L1964.7,922.7 Z" fill="rgb(2, 65, 165)"/>
<path d="M1999.1,933.6 L1997.5,948.3 L1984.9,954.5 L1974.0,946.0 L1975.6,931.3 L1988.2,925.1 Z" fill="rgb(2, 65, 165)"/>
<path d="M2022.6,935.9 L2021.0,950.6 L2008.4,956.8 L1997.5,948.3 L1999.1,933.6 L2011.7,927.4 Z" fill="rgb(2, 65, 165)"/>
<path d="M2046.1,938.3 L2044.5,953.0 L2031.9,959.1 L2021.0,950.6 L2022.6,935.9 L2035.2,929.8 Z" fill="rgb(2, 65, 165)"/>
<path d="M2069.6,940.6 L2067.9,955.3 L2055.4,961.5 L2044.5,953.0 L2046.1,938.3 L2058.7,932.1 Z" fill="rgb(2, 65, 165)"/>
<path d="M2093.1,942.9 L2091.4,957.6 L2078.8,963.8 L2067.9,955.3 L2069.6,940.6 L2082.2,934.4 Z" fill="rgb(2, 65, 165)"/>
<path d="M2116.6,945.3 L2114.9,960.0 L2102.3,966.1 L2091.4,957.6 L2093.1,942.9 L2105.7,936.8 Z" fill="rgb(2, 65, 165)"/>
<path d="M1844.0,940.5 L1842.4,955.1 L1829.9,961.3 L1818.9,952.8 L1820.5,938.1 L1833.0,931.9 Z" fill="rgb(2, 65, 165)"/>
<path d="M1867.5,942.8 L1865.9,957.5 L1853.4,963.6 L1842.4,955.1 L1844.0,940.5 L1856.5,934.3 Z" fill="rgb(2, 65, 165)"/>
<path d="M1891.0,945.1 L1889.4,959.8 L1876.8,966.0 L1865.9,957.5 L1867.5,942.8 L1880.0,936.6 Z" fill="rgb(2, 65, 165)"/>
<path d="M1914.5,947.5 L1912.9,962.1 L1900.3,968.3 L1889.4,959.8 L1891.0,945.1 L1903.5,938.9 Z" fill="rgb(2, 65, 165)"/>
<path d="M1938.0,949.8 L1936.3,964.5 L1923.8,970.7 L1912.9,962.1 L1914.5,947.5 L1927.0,941.3 Z" fill="rgb(2, 65, 165)"/>
<path d="M1961.4,952.1 L1959.8,966.8 L1947.3,973.0 L1936.3,964.5 L1938.0,949.8 L1950.5,943.6 Z" fill="rgb(2, 65, 165)"/>
<path d="M1984.9,954.5 L1983.3,969.1 L1970.8,975.3 L1959.8,966.8 L1961.4,952.1 L1974.0,946.0 Z" fill="rgb(2, 65, 165)"/>
<path d="M2008.4,956.8 L2006.8,971.5 L1994.2,977.7 L1983.3,969.1 L1984.9,954.5 L1997.5,948.3 Z" fill="rgb(2, 65, 165)"/>
<path d="M2031.9,959.1 L2030.3,973.8 L2017.7,980.0 L2006.8,971.5 L2008.4,956.8 L2021.0,950.6 Z" fill="rgb(2, 65, 165)"/>
<path d="M2055.4,961.5 L2053.7,976.1 L2041.2,982.3 L2030.3,973.8 L2031.9,959.1 L2044.5,953.0 Z" fill="rgb(2, 65, 165)"/>
<path d="M2078.8,963.8 L2077.2,978.5 L2064.6,984.6 L2053.7,976.1 L2055.4,961.5 L2067.9,955.3 Z" fill="rgb(2, 65, 165)"/>
<path d="M1853.4,963.6 L1851.8,978.3 L1839.3,984.5 L1828.3,976.0 L1829.9,961.3 L1842.4,955.1 Z" fill="rgb(2, 65, 165)"/>
<path d="M1876.8,966.0 L1875.3,980.7 L1862.7,986.8 L1851.8,978.3 L1853.4,963.6 L1865.9,957.5 Z" fill="rgb(2, 65, 165)"/>
<path d="M1900.3,968.3 L1898.7,983.0 L1886.2,989.2 L1875.3,980.7 L1876.8,966.0 L1889.4,959.8 Z" fill="rgb(2, 65, 165)"/>
<path d="M1923.8,970.7 L1922.2,985.3 L1909.7,991.5 L1898.7,983.0 L1900.3,968.3 L1912.9,962.1 Z" fill="rgb(2, 65, 165)"/>
<path d="M1947.3,973.0 L1945.7,987.7 L1933.1,993.8 L1922.2,985.3 L1923.8,970.7 L1936.3,964.5 Z" fill="rgb(2, 65, 165)"/>
<path d="M1970.8,975.3 L1969.1,990.0 L1956.6,996.2 L1945.7,987.7 L1947.3,973.0 L1959.8,966.8 Z" fill="rgb(2, 65, 165)"/>
<path d="M1994.2,977.7 L1992.6,992.3 L1980.1,998.5 L1969.1,990.0 L1970.8,975.3 L1983.3,969.1 Z" fill="rgb(2, 65, 165)"/>
<path d="M2017.7,980.0 L2016.1,994.7 L2003.5,1000.8 L1992.6,992.3 L1994.2,977.7 L2006.8,971.5 Z" fill="rgb(2, 65, 165)"/>
<path d="M2041.2,982.3 L2039.5,997.0 L2027.0,1003.2 L2016.1,994.7 L2017.7,980.0 L2030.3,973.8 Z" fill="rgb(2, 65, 165)"/>
<path d="M2064.6,984.6 L2063.0,999.3 L2050.4,1005.5 L2039.5,997.0 L2041.2,982.3 L2053.7,976.1 Z" fill="rgb(2, 65, 165)"/>
<path d="M2135.0,991.6 L2133.3,1006.3 L2120.8,1012.5 L2109.9,1004.0 L2111.5,989.3 L2124.1,983.1 Z" fill="rgb(2, 65, 165)"/>
<path d="M1862.7,986.8 L1861.2,1001.5 L1848.6,1007.7 L1837.7,999.2 L1839.3,984.5 L1851.8,978.3 Z" fill="rgb(2, 65, 165)"/>
<path d="M1886.2,989.2 L1884.6,1003.8 L1872.1,1010.0 L1861.2,1001.5 L1862.7,986.8 L1875.3,980.7 Z" fill="rgb(2, 65, 165)"/>
<path d="M1909.7,991.5 L1908.1,1006.2 L1895.6,1012.3 L1884.6,1003.8 L1886.2,989.2 L1898.7,983.0 Z" fill="rgb(2, 65, 165)"/>
<path d="M1933.1,993.8 L1931.5,1008.5 L1919.0,1014.7 L1908.1,1006.2 L1909.7,991.5 L1922.2,985.3 Z" fill="rgb(2, 65, 165)"/>
<path d="M1980.1,998.5 L1978.4,1013.2 L1965.9,1019.3 L1955.0,1010.8 L1956.6,996.2 L1969.1,990.0 Z" fill="rgb(2, 65, 165)"/>
<path d="M2003.5,1000.8 L2001.9,1015.5 L1989.4,1021.7 L1978.4,1013.2 L1980.1,998.5 L1992.6,992.3 Z" fill="rgb(2, 65, 165)"/>
<path d="M2027.0,1003.2 L2025.3,1017.8 L2012.8,1024.0 L2001.9,1015.5 L2003.5,1000.8 L2016.1,994.7 Z" fill="rgb(2, 65, 165)"/>
<path d="M2050.4,1005.5 L2048.8,1020.1 L2036.2,1026.3 L2025.3,1017.8 L2027.0,1003.2 L2039.5,997.0 Z" fill="rgb(2, 65, 165)"/>
<path d="M2073.9,1007.8 L2072.2,1022.5 L2059.7,1028.6 L2048.8,1020.1 L2050.4,1005.5 L2063.0,999.3 Z" fill="rgb(2, 65, 165)"/>
<path d="M2097.3,1010.1 L2095.7,1024.8 L2083.1,1031.0 L2072.2,1022.5 L2073.9,1007.8 L2086.4,1001.7 Z" fill="rgb(2, 65, 165)"/>
<path d="M2120.8,1012.5 L2119.1,1027.1 L2106.5,1033.3 L2095.7,1024.8 L2097.3,1010.1 L2109.9,1004.0 Z" fill="rgb(2, 65, 165)"/>
<path d="M1684.4,991.3 L1682.8,1006.0 L1670.4,1012.2 L1659.4,1003.7 L1660.9,989.0 L1673.4,982.8 Z" fill="rgb(2, 65, 165)"/>
<path d="M1707.8,993.7 L1706.3,1008.3 L1693.8,1014.5 L1682.8,1006.0 L1684.4,991.3 L1696.9,985.2 Z" fill="rgb(2, 65, 165)"/>
<path d="M1731.3,996.0 L1729.8,1010.7 L1717.3,1016.8 L1706.3,1008.3 L1707.8,993.7 L1720.3,987.5 Z" fill="rgb(2, 65, 165)"/>
<path d="M1848.6,1007.7 L1847.1,1022.3 L1834.6,1028.5 L1823.6,1020.0 L1825.2,1005.3 L1837.7,999.2 Z" fill="rgb(2, 65, 165)"/>
<path d="M1872.1,1010.0 L1870.5,1024.7 L1858.0,1030.8 L1847.1,1022.3 L1848.6,1007.7 L1861.2,1001.5 Z" fill="rgb(2, 65, 165)"/>
<path d="M1895.6,1012.3 L1894.0,1027.0 L1881.5,1033.2 L1870.5,1024.7 L1872.1,1010.0 L1884.6,1003.8 Z" fill="rgb(2, 65, 165)"/>
<path d="M1919.0,1014.7 L1917.4,1029.3 L1904.9,1035.5 L1894.0,1027.0 L1895.6,1012.3 L1908.1,1006.2 Z" fill="rgb(2, 65, 165)"/>
<path d="M1965.9,1019.3 L1964.3,1034.0 L1951.8,1040.1 L1940.9,1031.6 L1942.5,1017.0 L1955.0,1010.8 Z" fill="rgb(2, 65, 165)"/>
<path d="M1989.4,1021.7 L1987.7,1036.3 L1975.2,1042.5 L1964.3,1034.0 L1965.9,1019.3 L1978.4,1013.2 Z" fill="rgb(2, 65, 165)"/>
<path d="M2083.1,1031.0 L2081.4,1045.6 L2068.9,1051.8 L2058.0,1043.3 L2059.7,1028.6 L2072.2,1022.5 Z" fill="rgb(2, 65, 165)"/>
<path d="M2106.5,1033.3 L2104.9,1048.0 L2092.3,1054.1 L2081.4,1045.6 L2083.1,1031.0 L2095.7,1024.8 Z" fill="rgb(2, 65, 165)"/>
<path d="M1670.4,1012.2 L1668.9,1026.8 L1656.4,1033.0 L1645.4,1024.5 L1646.9,1009.8 L1659.4,1003.7 Z" fill="rgb(2, 65, 165)"/>
<path d="M1693.8,1014.5 L1692.3,1029.2 L1679.8,1035.3 L1668.9,1026.8 L1670.4,1012.2 L1682.8,1006.0 Z" fill="rgb(2, 65, 165)"/>
<path d="M1717.3,1016.8 L1715.8,1031.5 L1703.3,1037.7 L1692.3,1029.2 L1693.8,1014.5 L1706.3,1008.3 Z" fill="rgb(2, 65, 165)"/>
<path d="M1834.6,1028.5 L1833.0,1043.1 L1820.5,1049.3 L1809.6,1040.8 L1811.1,1026.2 L1823.6,1020.0 Z" fill="rgb(2, 65, 165)"/>
<path d="M1858.0,1030.8 L1856.4,1045.5 L1843.9,1051.6 L1833.0,1043.1 L1834.6,1028.5 L1847.1,1022.3 Z" fill="rgb(2, 65, 165)"/>
<path d="M1881.5,1033.2 L1879.9,1047.8 L1867.4,1054.0 L1856.4,1045.5 L1858.0,1030.8 L1870.5,1024.7 Z" fill="rgb(2, 65, 165)"/>
<path d="M1904.9,1035.5 L1903.3,1050.1 L1890.8,1056.3 L1879.9,1047.8 L1881.5,1033.2 L1894.0,1027.0 Z" fill="rgb(2, 65, 165)"/>
<path d="M1928.3,1037.8 L1926.7,1052.5 L1914.2,1058.6 L1903.3,1050.1 L1904.9,1035.5 L1917.4,1029.3 Z" fill="rgb(2, 65, 165)"/>
<path d="M1975.2,1042.5 L1973.6,1057.1 L1961.1,1063.3 L1950.2,1054.8 L1951.8,1040.1 L1964.3,1034.0 Z" fill="rgb(2, 65, 165)"/>
<path d="M1998.6,1044.8 L1997.0,1059.4 L1984.5,1065.6 L1973.6,1057.1 L1975.2,1042.5 L1987.7,1036.3 Z" fill="rgb(2, 65, 165)"/>
<path d="M2092.3,1054.1 L2090.7,1068.8 L2078.1,1074.9 L2067.3,1066.4 L2068.9,1051.8 L2081.4,1045.6 Z" fill="rgb(2, 65, 165)"/>
<path d="M1656.4,1033.0 L1654.9,1047.7 L1642.4,1053.8 L1631.4,1045.3 L1632.9,1030.7 L1645.4,1024.5 Z" fill="rgb(2, 65, 165)"/>
<path d="M1679.8,1035.3 L1678.3,1050.0 L1665.9,1056.1 L1654.9,1047.7 L1656.4,1033.0 L1668.9,1026.8 Z" fill="rgb(2, 65, 165)"/>
<path d="M1703.3,1037.7 L1701.8,1052.3 L1689.3,1058.5 L1678.3,1050.0 L1679.8,1035.3 L1692.3,1029.2 Z" fill="rgb(2, 65, 165)"/>
<path d="M1726.7,1040.0 L1725.2,1054.6 L1712.7,1060.8 L1701.8,1052.3 L1703.3,1037.7 L1715.8,1031.5 Z" fill="rgb(2, 65, 165)"/>
<path d="M1750.2,1042.3 L1748.7,1057.0 L1736.2,1063.1 L1725.2,1054.6 L1726.7,1040.0 L1739.2,1033.8 Z" fill="rgb(2, 65, 165)"/>
<path d="M1867.4,1054.0 L1865.8,1068.6 L1853.3,1074.8 L1842.4,1066.3 L1843.9,1051.6 L1856.4,1045.5 Z" fill="rgb(2, 65, 165)"/>
<path d="M1890.8,1056.3 L1889.2,1070.9 L1876.7,1077.1 L1865.8,1068.6 L1867.4,1054.0 L1879.9,1047.8 Z" fill="rgb(2, 65, 165)"/>
<path d="M1914.2,1058.6 L1912.6,1073.3 L1900.1,1079.4 L1889.2,1070.9 L1890.8,1056.3 L1903.3,1050.1 Z" fill="rgb(2, 65, 165)"/>
<path d="M1937.7,1060.9 L1936.1,1075.6 L1923.5,1081.7 L1912.6,1073.3 L1914.2,1058.6 L1926.7,1052.5 Z" fill="rgb(2, 65, 165)"/>
<path d="M1961.1,1063.3 L1959.5,1077.9 L1947.0,1084.1 L1936.1,1075.6 L1937.7,1060.9 L1950.2,1054.8 Z" fill="rgb(2, 65, 165)"/>
<path d="M1984.5,1065.6 L1982.9,1080.2 L1970.4,1086.4 L1959.5,1077.9 L1961.1,1063.3 L1973.6,1057.1 Z" fill="rgb(2, 65, 165)"/>
<path d="M2007.9,1067.9 L2006.3,1082.6 L1993.8,1088.7 L1982.9,1080.2 L1984.5,1065.6 L1997.0,1059.4 Z" fill="rgb(2, 65, 165)"/>
<path d="M2031.3,1070.3 L2029.7,1084.9 L2017.2,1091.0 L2006.3,1082.6 L2007.9,1067.9 L2020.4,1061.8 Z" fill="rgb(2, 65, 165)"/>
<path d="M1642.4,1053.8 L1640.9,1068.5 L1628.5,1074.6 L1617.5,1066.1 L1619.0,1051.5 L1631.4,1045.3 Z" fill="rgb(2, 65, 165)"/>
<path d="M1665.9,1056.1 L1664.4,1070.8 L1651.9,1076.9 L1640.9,1068.5 L1642.4,1053.8 L1654.9,1047.7 Z" fill="rgb(2, 65, 165)"/>
<path d="M1689.3,1058.5 L1687.8,1073.1 L1675.3,1079.3 L1664.4,1070.8 L1665.9,1056.1 L1678.3,1050.0 Z" fill="rgb(2, 65, 165)"/>
<path d="M1712.7,1060.8 L1711.2,1075.4 L1698.7,1081.6 L1687.8,1073.1 L1689.3,1058.5 L1701.8,1052.3 Z" fill="rgb(2, 65, 165)"/>
<path d="M1736.2,1063.1 L1734.6,1077.8 L1722.2,1083.9 L1711.2,1075.4 L1712.7,1060.8 L1725.2,1054.6 Z" fill="rgb(2, 65, 165)"/>
<path d="M1759.6,1065.5 L1758.1,1080.1 L1745.6,1086.2 L1734.6,1077.8 L1736.2,1063.1 L1748.7,1057.0 Z" fill="rgb(2, 65, 165)"/>
<path d="M1783.0,1067.8 L1781.5,1082.4 L1769.0,1088.6 L1758.1,1080.1 L1759.6,1065.5 L1772.1,1059.3 Z" fill="rgb(2, 65, 165)"/>
<path d="M1806.5,1070.1 L1804.9,1084.7 L1792.4,1090.9 L1781.5,1082.4 L1783.0,1067.8 L1795.5,1061.6 Z" fill="rgb(2, 65, 165)"/>
<path d="M1829.9,1072.4 L1828.3,1087.1 L1815.8,1093.2 L1804.9,1084.7 L1806.5,1070.1 L1818.9,1064.0 Z" fill="rgb(2, 65, 165)"/>
<path d="M1853.3,1074.8 L1851.7,1089.4 L1839.2,1095.6 L1828.3,1087.1 L1829.9,1072.4 L1842.4,1066.3 Z" fill="rgb(2, 65, 165)"/>
<path d="M1876.7,1077.1 L1875.1,1091.7 L1862.7,1097.9 L1851.7,1089.4 L1853.3,1074.8 L1865.8,1068.6 Z" fill="rgb(2, 65, 165)"/>
<path d="M1900.1,1079.4 L1898.5,1094.1 L1886.1,1100.2 L1875.1,1091.7 L1876.7,1077.1 L1889.2,1070.9 Z" fill="rgb(2, 65, 165)"/>
<path d="M1923.5,1081.7 L1922.0,1096.4 L1909.5,1102.5 L1898.5,1094.1 L1900.1,1079.4 L1912.6,1073.3 Z" fill="rgb(2, 65, 165)"/>
<path d="M1947.0,1084.1 L1945.4,1098.7 L1932.9,1104.9 L1922.0,1096.4 L1923.5,1081.7 L1936.1,1075.6 Z" fill="rgb(2, 65, 165)"/>
<path d="M1970.4,1086.4 L1968.8,1101.0 L1956.2,1107.2 L1945.4,1098.7 L1947.0,1084.1 L1959.5,1077.9 Z" fill="rgb(2, 65, 165)"/>
<path d="M1993.8,1088.7 L1992.1,1103.4 L1979.6,1109.5 L1968.8,1101.0 L1970.4,1086.4 L1982.9,1080.2 Z" fill="rgb(2, 65, 165)"/>
<path d="M2017.2,1091.0 L2015.5,1105.7 L2003.0,1111.8 L1992.1,1103.4 L1993.8,1088.7 L2006.3,1082.6 Z" fill="rgb(2, 65, 165)"/>
<path d="M2040.6,1093.4 L2038.9,1108.0 L2026.4,1114.2 L2015.5,1105.7 L2017.2,1091.0 L2029.7,1084.9 Z" fill="rgb(2, 65, 165)"/>
<path d="M1651.9,1076.9 L1650.4,1091.6 L1637.9,1097.7 L1627.0,1089.2 L1628.5,1074.6 L1640.9,1068.5 Z" fill="rgb(2, 65, 165)"/>
<path d="M1675.3,1079.3 L1673.8,1093.9 L1661.4,1100.1 L1650.4,1091.6 L1651.9,1076.9 L1664.4,1070.8 Z" fill="rgb(2, 65, 165)"/>
<path d="M1698.7,1081.6 L1697.2,1096.2 L1684.8,1102.4 L1673.8,1093.9 L1675.3,1079.3 L1687.8,1073.1 Z" fill="rgb(2, 65, 165)"/>
<path d="M1722.2,1083.9 L1720.7,1098.6 L1708.2,1104.7 L1697.2,1096.2 L1698.7,1081.6 L1711.2,1075.4 Z" fill="rgb(2, 65, 165)"/>
<path d="M1745.6,1086.2 L1744.1,1100.9 L1731.6,1107.0 L1720.7,1098.6 L1722.2,1083.9 L1734.6,1077.8 Z" fill="rgb(2, 65, 165)"/>
<path d="M1769.0,1088.6 L1767.5,1103.2 L1755.0,1109.4 L1744.1,1100.9 L1745.6,1086.2 L1758.1,1080.1 Z" fill="rgb(2, 65, 165)"/>
<path d="M1815.8,1093.2 L1814.3,1107.9 L1801.8,1114.0 L1790.9,1105.5 L1792.4,1090.9 L1804.9,1084.7 Z" fill="rgb(2, 65, 165)"/>
<path d="M1839.2,1095.6 L1837.7,1110.2 L1825.2,1116.3 L1814.3,1107.9 L1815.8,1093.2 L1828.3,1087.1 Z" fill="rgb(2, 65, 165)"/>
<path d="M1862.7,1097.9 L1861.1,1112.5 L1848.6,1118.7 L1837.7,1110.2 L1839.2,1095.6 L1851.7,1089.4 Z" fill="rgb(2, 65, 165)"/>
<path d="M1886.1,1100.2 L1884.5,1114.8 L1872.0,1121.0 L1861.1,1112.5 L1862.7,1097.9 L1875.1,1091.7 Z" fill="rgb(2, 65, 165)"/>
<path d="M1909.5,1102.5 L1907.9,1117.2 L1895.4,1123.3 L1884.5,1114.8 L1886.1,1100.2 L1898.5,1094.1 Z" fill="rgb(2, 65, 165)"/>
<path d="M1932.9,1104.9 L1931.3,1119.5 L1918.8,1125.6 L1907.9,1117.2 L1909.5,1102.5 L1922.0,1096.4 Z" fill="rgb(2, 65, 165)"/>
<path d="M1956.2,1107.2 L1954.6,1121.8 L1942.1,1128.0 L1931.3,1119.5 L1932.9,1104.9 L1945.4,1098.7 Z" fill="rgb(2, 65, 165)"/>
<path d="M1979.6,1109.5 L1978.0,1124.1 L1965.5,1130.3 L1954.6,1121.8 L1956.2,1107.2 L1968.8,1101.0 Z" fill="rgb(2, 65, 165)"/>
<path d="M2003.0,1111.8 L2001.4,1126.5 L1988.9,1132.6 L1978.0,1124.1 L1979.6,1109.5 L1992.1,1103.4 Z" fill="rgb(2, 65, 165)"/>
<path d="M2026.4,1114.2 L2024.8,1128.8 L2012.3,1134.9 L2001.4,1126.5 L2003.0,1111.8 L2015.5,1105.7 Z" fill="rgb(2, 65, 165)"/>
<path d="M2049.8,1116.5 L2048.2,1131.1 L2035.7,1137.2 L2024.8,1128.8 L2026.4,1114.2 L2038.9,1108.0 Z" fill="rgb(2, 65, 165)"/>
<path d="M1684.8,1102.4 L1683.3,1117.0 L1670.8,1123.2 L1659.9,1114.7 L1661.4,1100.1 L1673.8,1093.9 Z" fill="rgb(2, 65, 165)"/>
<path d="M1708.2,1104.7 L1706.7,1119.3 L1694.2,1125.5 L1683.3,1117.0 L1684.8,1102.4 L1697.2,1096.2 Z" fill="rgb(2, 65, 165)"/>
<path d="M1731.6,1107.0 L1730.1,1121.7 L1717.6,1127.8 L1706.7,1119.3 L1708.2,1104.7 L1720.7,1098.6 Z" fill="rgb(2, 65, 165)"/>
<path d="M1755.0,1109.4 L1753.5,1124.0 L1741.0,1130.1 L1730.1,1121.7 L1731.6,1107.0 L1744.1,1100.9 Z" fill="rgb(2, 65, 165)"/>
<path d="M1778.4,1111.7 L1776.9,1126.3 L1764.4,1132.4 L1753.5,1124.0 L1755.0,1109.4 L1767.5,1103.2 Z" fill="rgb(2, 65, 165)"/>
<path d="M1801.8,1114.0 L1800.3,1128.6 L1787.8,1134.8 L1776.9,1126.3 L1778.4,1111.7 L1790.9,1105.5 Z" fill="rgb(2, 65, 165)"/>
<path d="M1825.2,1116.3 L1823.6,1130.9 L1811.2,1137.1 L1800.3,1128.6 L1801.8,1114.0 L1814.3,1107.9 Z" fill="rgb(2, 65, 165)"/>
<path d="M1848.6,1118.7 L1847.0,1133.3 L1834.6,1139.4 L1823.6,1130.9 L1825.2,1116.3 L1837.7,1110.2 Z" fill="rgb(2, 65, 165)"/>
<path d="M1872.0,1121.0 L1870.4,1135.6 L1857.9,1141.7 L1847.0,1133.3 L1848.6,1118.7 L1861.1,1112.5 Z" fill="rgb(2, 65, 165)"/>
<path d="M1895.4,1123.3 L1893.8,1137.9 L1881.3,1144.1 L1870.4,1135.6 L1872.0,1121.0 L1884.5,1114.8 Z" fill="rgb(2, 65, 165)"/>
<path d="M1918.8,1125.6 L1917.2,1140.2 L1904.7,1146.4 L1893.8,1137.9 L1895.4,1123.3 L1907.9,1117.2 Z" fill="rgb(2, 65, 165)"/>
<path d="M1965.5,1130.3 L1963.9,1144.9 L1951.4,1151.0 L1940.5,1142.6 L1942.1,1128.0 L1954.6,1121.8 Z" fill="rgb(2, 65, 165)"/>
<path d="M1988.9,1132.6 L1987.3,1147.2 L1974.8,1153.4 L1963.9,1144.9 L1965.5,1130.3 L1978.0,1124.1 Z" fill="rgb(2, 65, 165)"/>
<path d="M2012.3,1134.9 L2010.7,1149.5 L1998.2,1155.7 L1987.3,1147.2 L1988.9,1132.6 L2001.4,1126.5 Z" fill="rgb(2, 65, 165)"/>
<path d="M2035.7,1137.2 L2034.0,1151.9 L2021.5,1158.0 L2010.7,1149.5 L2012.3,1134.9 L2024.8,1128.8 Z" fill="rgb(2, 65, 165)"/>
<path d="M1670.8,1123.2 L1669.3,1137.8 L1656.9,1143.9 L1645.9,1135.4 L1647.4,1120.8 L1659.9,1114.7 Z" fill="rgb(2, 65, 165)"/>
<path d="M1694.2,1125.5 L1692.7,1140.1 L1680.3,1146.2 L1669.3,1137.8 L1670.8,1123.2 L1683.3,1117.0 Z" fill="rgb(2, 65, 165)"/>
<path d="M1741.0,1130.1 L1739.5,1144.7 L1727.0,1150.9 L1716.1,1142.4 L1717.6,1127.8 L1730.1,1121.7 Z" fill="rgb(2, 65, 165)"/>
<path d="M1764.4,1132.4 L1762.9,1147.1 L1750.4,1153.2 L1739.5,1144.7 L1741.0,1130.1 L1753.5,1124.0 Z" fill="rgb(2, 65, 165)"/>
<path d="M1811.2,1137.1 L1809.6,1151.7 L1797.2,1157.9 L1786.2,1149.4 L1787.8,1134.8 L1800.3,1128.6 Z" fill="rgb(2, 65, 165)"/>
<path d="M1834.6,1139.4 L1833.0,1154.0 L1820.5,1160.2 L1809.6,1151.7 L1811.2,1137.1 L1823.6,1130.9 Z" fill="rgb(2, 65, 165)"/>
<path d="M1857.9,1141.7 L1856.4,1156.4 L1843.9,1162.5 L1833.0,1154.0 L1834.6,1139.4 L1847.0,1133.3 Z" fill="rgb(2, 65, 165)"/>
<path d="M1881.3,1144.1 L1879.7,1158.7 L1867.3,1164.8 L1856.4,1156.4 L1857.9,1141.7 L1870.4,1135.6 Z" fill="rgb(2, 65, 165)"/>
<path d="M1904.7,1146.4 L1903.1,1161.0 L1890.6,1167.1 L1879.7,1158.7 L1881.3,1144.1 L1893.8,1137.9 Z" fill="rgb(2, 65, 165)"/>
<path d="M1928.1,1148.7 L1926.5,1163.3 L1914.0,1169.5 L1903.1,1161.0 L1904.7,1146.4 L1917.2,1140.2 Z" fill="rgb(2, 65, 165)"/>
<path d="M1951.4,1151.0 L1949.8,1165.6 L1937.4,1171.8 L1926.5,1163.3 L1928.1,1148.7 L1940.5,1142.6 Z" fill="rgb(2, 65, 165)"/>
<path d="M1974.8,1153.4 L1973.2,1168.0 L1960.7,1174.1 L1949.8,1165.6 L1951.4,1151.0 L1963.9,1144.9 Z" fill="rgb(2, 65, 165)"/>
<path d="M1998.2,1155.7 L1996.5,1170.3 L1984.1,1176.4 L1973.2,1168.0 L1974.8,1153.4 L1987.3,1147.2 Z" fill="rgb(2, 65, 165)"/>
<path d="M2021.5,1158.0 L2019.9,1172.6 L2007.4,1178.7 L1996.5,1170.3 L1998.2,1155.7 L2010.7,1149.5 Z" fill="rgb(2, 65, 165)"/>
<path d="M1703.7,1148.6 L1702.1,1163.2 L1689.7,1169.3 L1678.8,1160.8 L1680.3,1146.2 L1692.7,1140.1 Z" fill="rgb(2, 65, 165)"/>
<path d="M1727.0,1150.9 L1725.5,1165.5 L1713.1,1171.6 L1702.1,1163.2 L1703.7,1148.6 L1716.1,1142.4 Z" fill="rgb(2, 65, 165)"/>
<path d="M1797.2,1157.9 L1795.6,1172.5 L1783.2,1178.6 L1772.3,1170.1 L1773.8,1155.5 L1786.2,1149.4 Z" fill="rgb(2, 65, 165)"/>
<path d="M1843.9,1162.5 L1842.3,1177.1 L1829.9,1183.2 L1819.0,1174.8 L1820.5,1160.2 L1833.0,1154.0 Z" fill="rgb(2, 65, 165)"/>
<path d="M1867.3,1164.8 L1865.7,1179.4 L1853.2,1185.6 L1842.3,1177.1 L1843.9,1162.5 L1856.4,1156.4 Z" fill="rgb(2, 65, 165)"/>
<path d="M1890.6,1167.1 L1889.1,1181.7 L1876.6,1187.9 L1865.7,1179.4 L1867.3,1164.8 L1879.7,1158.7 Z" fill="rgb(2, 65, 165)"/>
<path d="M1914.0,1169.5 L1912.4,1184.1 L1899.9,1190.2 L1889.1,1181.7 L1890.6,1167.1 L1903.1,1161.0 Z" fill="rgb(2, 65, 165)"/>
<path d="M1937.4,1171.8 L1935.8,1186.4 L1923.3,1192.5 L1912.4,1184.1 L1914.0,1169.5 L1926.5,1163.3 Z" fill="rgb(2, 65, 165)"/>
<path d="M1960.7,1174.1 L1959.1,1188.7 L1946.6,1194.8 L1935.8,1186.4 L1937.4,1171.8 L1949.8,1165.6 Z" fill="rgb(2, 65, 165)"/>
<path d="M1984.1,1176.4 L1982.4,1191.0 L1970.0,1197.2 L1959.1,1188.7 L1960.7,1174.1 L1973.2,1168.0 Z" fill="rgb(2, 65, 165)"/>
<path d="M2007.4,1178.7 L2005.8,1193.3 L1993.3,1199.5 L1982.4,1191.0 L1984.1,1176.4 L1996.5,1170.3 Z" fill="rgb(2, 65, 165)"/>
<path d="M1736.4,1174.0 L1734.9,1188.6 L1722.5,1194.7 L1711.6,1186.2 L1713.1,1171.6 L1725.5,1165.5 Z" fill="rgb(2, 65, 165)"/>
<path d="M1759.8,1176.3 L1758.3,1190.9 L1745.8,1197.0 L1734.9,1188.6 L1736.4,1174.0 L1748.9,1167.8 Z" fill="rgb(2, 65, 165)"/>
<path d="M1783.2,1178.6 L1781.6,1193.2 L1769.2,1199.3 L1758.3,1190.9 L1759.8,1176.3 L1772.3,1170.1 Z" fill="rgb(2, 65, 165)"/>
<path d="M1806.5,1180.9 L1805.0,1195.5 L1792.5,1201.6 L1781.6,1193.2 L1783.2,1178.6 L1795.6,1172.5 Z" fill="rgb(2, 65, 165)"/>
<path d="M1829.9,1183.2 L1828.3,1197.8 L1815.9,1204.0 L1805.0,1195.5 L1806.5,1180.9 L1819.0,1174.8 Z" fill="rgb(2, 65, 165)"/>
<path d="M1853.2,1185.6 L1851.7,1200.2 L1839.2,1206.3 L1828.3,1197.8 L1829.9,1183.2 L1842.3,1177.1 Z" fill="rgb(2, 65, 165)"/>
<path d="M1876.6,1187.9 L1875.0,1202.5 L1862.6,1208.6 L1851.7,1200.2 L1853.2,1185.6 L1865.7,1179.4 Z" fill="rgb(2, 65, 165)"/>
<path d="M1899.9,1190.2 L1898.4,1204.8 L1885.9,1210.9 L1875.0,1202.5 L1876.6,1187.9 L1889.1,1181.7 Z" fill="rgb(2, 65, 165)"/>
<path d="M1923.3,1192.5 L1921.7,1207.1 L1909.2,1213.2 L1898.4,1204.8 L1899.9,1190.2 L1912.4,1184.1 Z" fill="rgb(2, 65, 165)"/>
<path d="M1946.6,1194.8 L1945.0,1209.4 L1932.6,1215.6 L1921.7,1207.1 L1923.3,1192.5 L1935.8,1186.4 Z" fill="rgb(2, 65, 165)"/>
<path d="M1970.0,1197.2 L1968.4,1211.7 L1955.9,1217.9 L1945.0,1209.4 L1946.6,1194.8 L1959.1,1188.7 Z" fill="rgb(2, 65, 165)"/>
<path d="M1993.3,1199.5 L1991.7,1214.1 L1979.2,1220.2 L1968.4,1211.7 L1970.0,1197.2 L1982.4,1191.0 Z" fill="rgb(2, 65, 165)"/>
<path d="M1745.8,1197.0 L1744.3,1211.6 L1731.9,1217.7 L1721.0,1209.3 L1722.5,1194.7 L1734.9,1188.6 Z" fill="rgb(2, 65, 165)"/>
<path d="M1769.2,1199.3 L1767.7,1213.9 L1755.2,1220.1 L1744.3,1211.6 L1745.8,1197.0 L1758.3,1190.9 Z" fill="rgb(2, 65, 165)"/>
<path d="M1792.5,1201.6 L1791.0,1216.2 L1778.6,1222.4 L1767.7,1213.9 L1769.2,1199.3 L1781.6,1193.2 Z" fill="rgb(2, 65, 165)"/>
<path d="M1839.2,1206.3 L1837.7,1220.9 L1825.2,1227.0 L1814.3,1218.6 L1815.9,1204.0 L1828.3,1197.8 Z" fill="rgb(2, 65, 165)"/>
<path d="M1862.6,1208.6 L1861.0,1223.2 L1848.5,1229.3 L1837.7,1220.9 L1839.2,1206.3 L1851.7,1200.2 Z" fill="rgb(2, 65, 165)"/>
<path d="M1885.9,1210.9 L1884.3,1225.5 L1871.9,1231.6 L1861.0,1223.2 L1862.6,1208.6 L1875.0,1202.5 Z" fill="rgb(2, 65, 165)"/>
<path d="M1909.2,1213.2 L1907.6,1227.8 L1895.2,1234.0 L1884.3,1225.5 L1885.9,1210.9 L1898.4,1204.8 Z" fill="rgb(2, 65, 165)"/>
<path d="M1932.6,1215.6 L1931.0,1230.1 L1918.5,1236.3 L1907.6,1227.8 L1909.2,1213.2 L1921.7,1207.1 Z" fill="rgb(2, 65, 165)"/>
<path d="M1955.9,1217.9 L1954.3,1232.5 L1941.8,1238.6 L1931.0,1230.1 L1932.6,1215.6 L1945.0,1209.4 Z" fill="rgb(2, 65, 165)"/>
<path d="M1979.2,1220.2 L1977.6,1234.8 L1965.1,1240.9 L1954.3,1232.5 L1955.9,1217.9 L1968.4,1211.7 Z" fill="rgb(2, 65, 165)"/>
<path d="M2002.5,1222.5 L2000.9,1237.1 L1988.5,1243.2 L1977.6,1234.8 L1979.2,1220.2 L1991.7,1214.1 Z" fill="rgb(2, 65, 165)"/>
<path d="M1755.2,1220.1 L1753.7,1234.6 L1741.3,1240.8 L1730.4,1232.3 L1731.9,1217.7 L1744.3,1211.6 Z" fill="rgb(2, 65, 165)"/>
<path d="M1825.2,1227.0 L1823.7,1241.6 L1811.2,1247.7 L1800.3,1239.3 L1801.9,1224.7 L1814.3,1218.6 Z" fill="rgb(2, 65, 165)"/>
<path d="M1848.5,1229.3 L1847.0,1243.9 L1834.6,1250.0 L1823.7,1241.6 L1825.2,1227.0 L1837.7,1220.9 Z" fill="rgb(2, 65, 165)"/>
<path d="M1871.9,1231.6 L1870.3,1246.2 L1857.9,1252.3 L1847.0,1243.9 L1848.5,1229.3 L1861.0,1223.2 Z" fill="rgb(2, 65, 165)"/>
<path d="M1895.2,1234.0 L1893.6,1248.5 L1881.2,1254.7 L1870.3,1246.2 L1871.9,1231.6 L1884.3,1225.5 Z" fill="rgb(2, 65, 165)"/>
<path d="M1918.5,1236.3 L1916.9,1250.9 L1904.5,1257.0 L1893.6,1248.5 L1895.2,1234.0 L1907.6,1227.8 Z" fill="rgb(2, 65, 165)"/>
<path d="M1941.8,1238.6 L1940.2,1253.2 L1927.8,1259.3 L1916.9,1250.9 L1918.5,1236.3 L1931.0,1230.1 Z" fill="rgb(2, 65, 165)"/>
<path d="M1965.1,1240.9 L1963.5,1255.5 L1951.1,1261.6 L1940.2,1253.2 L1941.8,1238.6 L1954.3,1232.5 Z" fill="rgb(2, 65, 165)"/>
<path d="M1988.5,1243.2 L1986.8,1257.8 L1974.4,1263.9 L1963.5,1255.5 L1965.1,1240.9 L1977.6,1234.8 Z" fill="rgb(2, 65, 165)"/>
<path d="M2011.8,1245.5 L2010.1,1260.1 L1997.7,1266.2 L1986.8,1257.8 L1988.5,1243.2 L2000.9,1237.1 Z" fill="rgb(2, 65, 165)"/>
<path d="M1811.2,1247.7 L1809.7,1262.3 L1797.3,1268.4 L1786.4,1260.0 L1787.9,1245.4 L1800.3,1239.3 Z" fill="rgb(2, 65, 165)"/>
<path d="M1834.6,1250.0 L1833.0,1264.6 L1820.6,1270.7 L1809.7,1262.3 L1811.2,1247.7 L1823.7,1241.6 Z" fill="rgb(2, 65, 165)"/>
<path d="M1857.9,1252.3 L1856.3,1266.9 L1843.9,1273.0 L1833.0,1264.6 L1834.6,1250.0 L1847.0,1243.9 Z" fill="rgb(2, 65, 165)"/>
<path d="M1881.2,1254.7 L1879.6,1269.2 L1867.2,1275.4 L1856.3,1266.9 L1857.9,1252.3 L1870.3,1246.2 Z" fill="rgb(2, 65, 165)"/>
<path d="M1904.5,1257.0 L1902.9,1271.5 L1890.5,1277.7 L1879.6,1269.2 L1881.2,1254.7 L1893.6,1248.5 Z" fill="rgb(2, 65, 165)"/>
<path d="M1927.8,1259.3 L1926.2,1273.9 L1913.8,1280.0 L1902.9,1271.5 L1904.5,1257.0 L1916.9,1250.9 Z" fill="rgb(2, 65, 165)"/>
<path d="M1951.1,1261.6 L1949.5,1276.2 L1937.1,1282.3 L1926.2,1273.9 L1927.8,1259.3 L1940.2,1253.2 Z" fill="rgb(2, 65, 165)"/>
<path d="M1974.4,1263.9 L1972.8,1278.5 L1960.3,1284.6 L1949.5,1276.2 L1951.1,1261.6 L1963.5,1255.5 Z" fill="rgb(2, 65, 165)"/>
<path d="M1997.7,1266.2 L1996.1,1280.8 L1983.6,1286.9 L1972.8,1278.5 L1974.4,1263.9 L1986.8,1257.8 Z" fill="rgb(2, 65, 165)"/>
<path d="M1750.6,1263.8 L1749.1,1278.3 L1736.7,1284.5 L1725.8,1276.0 L1727.3,1261.5 L1739.7,1255.3 Z" fill="rgb(2, 65, 165)"/>
<path d="M1774.0,1266.1 L1772.4,1280.7 L1760.0,1286.8 L1749.1,1278.3 L1750.6,1263.8 L1763.1,1257.7 Z" fill="rgb(2, 65, 165)"/>
<path d="M1797.3,1268.4 L1795.7,1283.0 L1783.3,1289.1 L1772.4,1280.7 L1774.0,1266.1 L1786.4,1260.0 Z" fill="rgb(2, 65, 165)"/>
<path d="M1820.6,1270.7 L1819.0,1285.3 L1806.6,1291.4 L1795.7,1283.0 L1797.3,1268.4 L1809.7,1262.3 Z" fill="rgb(2, 65, 165)"/>
<path d="M1867.2,1275.4 L1865.6,1289.9 L1853.2,1296.0 L1842.3,1287.6 L1843.9,1273.0 L1856.3,1266.9 Z" fill="rgb(2, 65, 165)"/>
<path d="M1736.7,1284.5 L1735.2,1299.0 L1722.8,1305.1 L1711.9,1296.7 L1713.4,1282.2 L1725.8,1276.0 Z" fill="rgb(2, 65, 165)"/>
<path d="M1760.0,1286.8 L1758.5,1301.3 L1746.1,1307.5 L1735.2,1299.0 L1736.7,1284.5 L1749.1,1278.3 Z" fill="rgb(2, 65, 165)"/>
<path d="M1783.3,1289.1 L1781.8,1303.7 L1769.4,1309.8 L1758.5,1301.3 L1760.0,1286.8 L1772.4,1280.7 Z" fill="rgb(2, 65, 165)"/>
<path d="M1806.6,1291.4 L1805.1,1306.0 L1792.6,1312.1 L1781.8,1303.7 L1783.3,1289.1 L1795.7,1283.0 Z" fill="rgb(2, 65, 165)"/>
<path d="M1829.9,1293.7 L1828.3,1308.3 L1815.9,1314.4 L1805.1,1306.0 L1806.6,1291.4 L1819.0,1285.3 Z" fill="rgb(2, 65, 165)"/>
<path d="M1722.8,1305.1 L1721.3,1319.7 L1708.9,1325.8 L1698.0,1317.4 L1699.5,1302.8 L1711.9,1296.7 Z" fill="rgb(2, 65, 165)"/>
<path d="M1746.1,1307.5 L1744.6,1322.0 L1732.2,1328.1 L1721.3,1319.7 L1722.8,1305.1 L1735.2,1299.0 Z" fill="rgb(2, 65, 165)"/>
<path d="M1769.4,1309.8 L1767.8,1324.3 L1755.4,1330.4 L1744.6,1322.0 L1746.1,1307.5 L1758.5,1301.3 Z" fill="rgb(2, 65, 165)"/>
<path d="M1792.6,1312.1 L1791.1,1326.6 L1778.7,1332.7 L1767.8,1324.3 L1769.4,1309.8 L1781.8,1303.7 Z" fill="rgb(2, 65, 165)"/>
<path d="M1815.9,1314.4 L1814.4,1328.9 L1802.0,1335.1 L1791.1,1326.6 L1792.6,1312.1 L1805.1,1306.0 Z" fill="rgb(2, 65, 165)"/>
<path d="M1778.7,1332.7 L1777.2,1347.3 L1764.8,1353.4 L1753.9,1345.0 L1755.4,1330.4 L1767.8,1324.3 Z" fill="rgb(2, 65, 165)"/>
<path d="M1802.0,1335.1 L1800.4,1349.6 L1788.0,1355.7 L1777.2,1347.3 L1778.7,1332.7 L1791.1,1326.6 Z" fill="rgb(2, 65, 165)"/>
<path d="M1825.2,1337.4 L1823.7,1351.9 L1811.3,1358.0 L1800.4,1349.6 L1802.0,1335.1 L1814.4,1328.9 Z" fill="rgb(2, 65, 165)"/>
<path d="M1788.0,1355.7 L1786.5,1370.2 L1774.1,1376.3 L1763.3,1367.9 L1764.8,1353.4 L1777.2,1347.3 Z" fill="rgb(2, 65, 165)"/>
<path d="M1811.3,1358.0 L1809.7,1372.5 L1797.4,1378.7 L1786.5,1370.2 L1788.0,1355.7 L1800.4,1349.6 Z" fill="rgb(2, 65, 165)"/>
</g>

<rect x="1535" y="526" width="51" height="51" rx="5" fill="#fff" filter="url(#sh)"/>
<path d="M1548,550 H1573 M1560.5,537.5 V562.5" stroke="#575757" stroke-width="6.2"/>
<rect x="1554.5" y="577" width="12" height="269" fill="#fff" fill-opacity="0.55" stroke="#b5b5b5" stroke-width="1.6"/>
<rect x="1535" y="715" width="51" height="26" rx="5" fill="#fff" filter="url(#sh)"/>
<rect x="1551.0" y="724.5" width="1.6" height="1.6" fill="#666"/>
<rect x="1551.0" y="729.5" width="1.6" height="1.6" fill="#666"/>
<rect x="1556.5" y="724.5" width="1.6" height="1.6" fill="#666"/>
<rect x="1556.5" y="729.5" width="1.6" height="1.6" fill="#666"/>
<rect x="1562.0" y="724.5" width="1.6" height="1.6" fill="#666"/>
<rect x="1562.0" y="729.5" width="1.6" height="1.6" fill="#666"/>
<rect x="1567.5" y="724.5" width="1.6" height="1.6" fill="#666"/>
<rect x="1567.5" y="729.5" width="1.6" height="1.6" fill="#666"/>
<rect x="1535" y="846" width="51" height="50" rx="5" fill="#fff" filter="url(#sh)"/>
<path d="M1548,870 H1573" stroke="#575757" stroke-width="6.5"/>
<rect x="2141.5" y="377" width="324.5" height="139" rx="7" fill="#fff"/>
<linearGradient id="lgd" x1="0" x2="1" y1="0" y2="0"><stop offset="0" stop-color="#0a3fa5"/><stop offset="0.5" stop-color="#d4d4d4"/><stop offset="1" stop-color="#b81f35"/></linearGradient>
<rect x="2156" y="444" width="295.6" height="14" rx="4" fill="url(#lgd)"/>
<text x="2157" y="423" font-size="23" fill="#7d7d7d" font-family="Liberation Sans, sans-serif">Спрос</text>
<text x="2157" y="494.5" font-size="23" fill="#1f1f1f" font-family="Liberation Sans, sans-serif">58</text>
<text x="2277.5" y="494.5" font-size="23" fill="#1f1f1f" text-anchor="middle" font-family="Liberation Sans, sans-serif">13,83M</text>
<text x="2451.5" y="494.5" font-size="23" fill="#1f1f1f" text-anchor="end" font-family="Liberation Sans, sans-serif">27,66M</text>
</svg></div>
</body></html>
